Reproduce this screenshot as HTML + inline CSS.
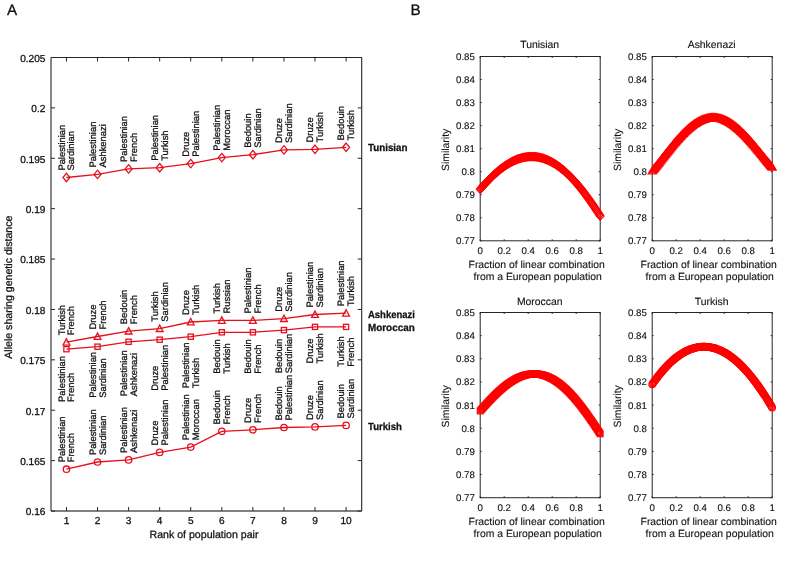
<!DOCTYPE html>
<html><head><meta charset="utf-8"><style>
html,body{margin:0;padding:0;background:#fff;}
svg{display:block;will-change:transform;}
text{font-family:"Liberation Sans", sans-serif;text-rendering:geometricPrecision;fill:#111;stroke:#111;stroke-width:0.28px;}
.t10{font-size:10.1px;}
.t11{font-size:10.6px;}
.t9{font-size:9.4px;}
.t14{font-size:15.2px;}
.tb{font-size:10.3px;font-weight:bold;}
.tb9{font-size:9.7px;stroke-width:0.12px;}
.tb10{font-size:10.4px;stroke-width:0.12px;}
</style></head><body>
<svg width="785" height="563" viewBox="0 0 785 563">
<rect width="785" height="563" fill="#fff"/>
<line x1="51.0" y1="57.5" x2="361.7" y2="57.5" stroke="#262626" stroke-width="1.1"/>
<line x1="361.7" y1="57.5" x2="361.7" y2="511.0" stroke="#262626" stroke-width="1.1"/>
<line x1="51.0" y1="57.5" x2="51.0" y2="511.0" stroke="#555" stroke-width="1.4"/>
<line x1="51.0" y1="511.0" x2="361.7" y2="511.0" stroke="#555" stroke-width="1.4"/>
<line x1="51.0" y1="511.00" x2="55.0" y2="511.00" stroke="#262626" stroke-width="1"/>
<line x1="357.7" y1="511.00" x2="361.7" y2="511.00" stroke="#262626" stroke-width="1"/>
<text x="45.4" y="515.30" text-anchor="end" class="t10">0.16</text>
<line x1="51.0" y1="460.61" x2="55.0" y2="460.61" stroke="#262626" stroke-width="1"/>
<line x1="357.7" y1="460.61" x2="361.7" y2="460.61" stroke="#262626" stroke-width="1"/>
<text x="45.4" y="464.91" text-anchor="end" class="t10">0.165</text>
<line x1="51.0" y1="410.22" x2="55.0" y2="410.22" stroke="#262626" stroke-width="1"/>
<line x1="357.7" y1="410.22" x2="361.7" y2="410.22" stroke="#262626" stroke-width="1"/>
<text x="45.4" y="414.52" text-anchor="end" class="t10">0.17</text>
<line x1="51.0" y1="359.83" x2="55.0" y2="359.83" stroke="#262626" stroke-width="1"/>
<line x1="357.7" y1="359.83" x2="361.7" y2="359.83" stroke="#262626" stroke-width="1"/>
<text x="45.4" y="364.13" text-anchor="end" class="t10">0.175</text>
<line x1="51.0" y1="309.44" x2="55.0" y2="309.44" stroke="#262626" stroke-width="1"/>
<line x1="357.7" y1="309.44" x2="361.7" y2="309.44" stroke="#262626" stroke-width="1"/>
<text x="45.4" y="313.74" text-anchor="end" class="t10">0.18</text>
<line x1="51.0" y1="259.06" x2="55.0" y2="259.06" stroke="#262626" stroke-width="1"/>
<line x1="357.7" y1="259.06" x2="361.7" y2="259.06" stroke="#262626" stroke-width="1"/>
<text x="45.4" y="263.36" text-anchor="end" class="t10">0.185</text>
<line x1="51.0" y1="208.67" x2="55.0" y2="208.67" stroke="#262626" stroke-width="1"/>
<line x1="357.7" y1="208.67" x2="361.7" y2="208.67" stroke="#262626" stroke-width="1"/>
<text x="45.4" y="212.97" text-anchor="end" class="t10">0.19</text>
<line x1="51.0" y1="158.28" x2="55.0" y2="158.28" stroke="#262626" stroke-width="1"/>
<line x1="357.7" y1="158.28" x2="361.7" y2="158.28" stroke="#262626" stroke-width="1"/>
<text x="45.4" y="162.58" text-anchor="end" class="t10">0.195</text>
<line x1="51.0" y1="107.89" x2="55.0" y2="107.89" stroke="#262626" stroke-width="1"/>
<line x1="357.7" y1="107.89" x2="361.7" y2="107.89" stroke="#262626" stroke-width="1"/>
<text x="45.4" y="112.19" text-anchor="end" class="t10">0.2</text>
<line x1="51.0" y1="57.50" x2="55.0" y2="57.50" stroke="#262626" stroke-width="1"/>
<line x1="357.7" y1="57.50" x2="361.7" y2="57.50" stroke="#262626" stroke-width="1"/>
<text x="45.4" y="61.80" text-anchor="end" class="t10">0.205</text>
<line x1="66.45" y1="511.0" x2="66.45" y2="507.0" stroke="#262626" stroke-width="1"/>
<line x1="66.45" y1="57.5" x2="66.45" y2="61.5" stroke="#262626" stroke-width="1"/>
<text x="66.45" y="524.2" text-anchor="middle" class="t10">1</text>
<line x1="97.52" y1="511.0" x2="97.52" y2="507.0" stroke="#262626" stroke-width="1"/>
<line x1="97.52" y1="57.5" x2="97.52" y2="61.5" stroke="#262626" stroke-width="1"/>
<text x="97.52" y="524.2" text-anchor="middle" class="t10">2</text>
<line x1="128.59" y1="511.0" x2="128.59" y2="507.0" stroke="#262626" stroke-width="1"/>
<line x1="128.59" y1="57.5" x2="128.59" y2="61.5" stroke="#262626" stroke-width="1"/>
<text x="128.59" y="524.2" text-anchor="middle" class="t10">3</text>
<line x1="159.66" y1="511.0" x2="159.66" y2="507.0" stroke="#262626" stroke-width="1"/>
<line x1="159.66" y1="57.5" x2="159.66" y2="61.5" stroke="#262626" stroke-width="1"/>
<text x="159.66" y="524.2" text-anchor="middle" class="t10">4</text>
<line x1="190.73" y1="511.0" x2="190.73" y2="507.0" stroke="#262626" stroke-width="1"/>
<line x1="190.73" y1="57.5" x2="190.73" y2="61.5" stroke="#262626" stroke-width="1"/>
<text x="190.73" y="524.2" text-anchor="middle" class="t10">5</text>
<line x1="221.80" y1="511.0" x2="221.80" y2="507.0" stroke="#262626" stroke-width="1"/>
<line x1="221.80" y1="57.5" x2="221.80" y2="61.5" stroke="#262626" stroke-width="1"/>
<text x="221.80" y="524.2" text-anchor="middle" class="t10">6</text>
<line x1="252.87" y1="511.0" x2="252.87" y2="507.0" stroke="#262626" stroke-width="1"/>
<line x1="252.87" y1="57.5" x2="252.87" y2="61.5" stroke="#262626" stroke-width="1"/>
<text x="252.87" y="524.2" text-anchor="middle" class="t10">7</text>
<line x1="283.94" y1="511.0" x2="283.94" y2="507.0" stroke="#262626" stroke-width="1"/>
<line x1="283.94" y1="57.5" x2="283.94" y2="61.5" stroke="#262626" stroke-width="1"/>
<text x="283.94" y="524.2" text-anchor="middle" class="t10">8</text>
<line x1="315.01" y1="511.0" x2="315.01" y2="507.0" stroke="#262626" stroke-width="1"/>
<line x1="315.01" y1="57.5" x2="315.01" y2="61.5" stroke="#262626" stroke-width="1"/>
<text x="315.01" y="524.2" text-anchor="middle" class="t10">9</text>
<line x1="346.08" y1="511.0" x2="346.08" y2="507.0" stroke="#262626" stroke-width="1"/>
<line x1="346.08" y1="57.5" x2="346.08" y2="61.5" stroke="#262626" stroke-width="1"/>
<text x="346.08" y="524.2" text-anchor="middle" class="t10">10</text>
<text x="204" y="537.6" text-anchor="middle" class="t11">Rank of population pair</text>
<text transform="translate(11.8,287.2) rotate(-90)" text-anchor="middle" class="t11">Allele sharing genetic distance</text>
<text x="6.9" y="14.8" class="t14">A</text>
<text x="410.4" y="14.9" class="t14">B</text>
<polyline points="66.45,177.50 97.52,174.40 128.59,168.90 159.66,167.70 190.73,163.60 221.80,157.60 252.87,154.70 283.94,149.90 315.01,149.30 346.08,147.30" fill="none" stroke="#e6101c" stroke-width="1.3"/>
<path d="M66.45,173.30L69.95,177.50L66.45,181.70L62.95,177.50Z" fill="none" stroke="#e6101c" stroke-width="1.3"/>
<path d="M97.52,170.20L101.02,174.40L97.52,178.60L94.02,174.40Z" fill="none" stroke="#e6101c" stroke-width="1.3"/>
<path d="M128.59,164.70L132.09,168.90L128.59,173.10L125.09,168.90Z" fill="none" stroke="#e6101c" stroke-width="1.3"/>
<path d="M159.66,163.50L163.16,167.70L159.66,171.90L156.16,167.70Z" fill="none" stroke="#e6101c" stroke-width="1.3"/>
<path d="M190.73,159.40L194.23,163.60L190.73,167.80L187.23,163.60Z" fill="none" stroke="#e6101c" stroke-width="1.3"/>
<path d="M221.80,153.40L225.30,157.60L221.80,161.80L218.30,157.60Z" fill="none" stroke="#e6101c" stroke-width="1.3"/>
<path d="M252.87,150.50L256.37,154.70L252.87,158.90L249.37,154.70Z" fill="none" stroke="#e6101c" stroke-width="1.3"/>
<path d="M283.94,145.70L287.44,149.90L283.94,154.10L280.44,149.90Z" fill="none" stroke="#e6101c" stroke-width="1.3"/>
<path d="M315.01,145.10L318.51,149.30L315.01,153.50L311.51,149.30Z" fill="none" stroke="#e6101c" stroke-width="1.3"/>
<path d="M346.08,143.10L349.58,147.30L346.08,151.50L342.58,147.30Z" fill="none" stroke="#e6101c" stroke-width="1.3"/>
<text transform="translate(64.55,170.60) rotate(-90)" class="t9">Palestinian</text>
<text transform="translate(74.45,170.60) rotate(-90)" class="t9">Sardinian</text>
<text transform="translate(95.62,167.50) rotate(-90)" class="t9">Palestinian</text>
<text transform="translate(105.52,167.50) rotate(-90)" class="t9">Ashkenazi</text>
<text transform="translate(126.69,162.00) rotate(-90)" class="t9">Palestinian</text>
<text transform="translate(136.59,162.00) rotate(-90)" class="t9">French</text>
<text transform="translate(157.76,160.80) rotate(-90)" class="t9">Palestinian</text>
<text transform="translate(167.66,160.80) rotate(-90)" class="t9">Turkish</text>
<text transform="translate(188.83,156.70) rotate(-90)" class="t9">Druze</text>
<text transform="translate(198.73,156.70) rotate(-90)" class="t9">Palestinian</text>
<text transform="translate(219.90,150.70) rotate(-90)" class="t9">Palestinian</text>
<text transform="translate(229.80,150.70) rotate(-90)" class="t9">Moroccan</text>
<text transform="translate(250.97,147.80) rotate(-90)" class="t9">Bedouin</text>
<text transform="translate(260.87,147.80) rotate(-90)" class="t9">Sardinian</text>
<text transform="translate(282.04,143.00) rotate(-90)" class="t9">Druze</text>
<text transform="translate(291.94,143.00) rotate(-90)" class="t9">Sardinian</text>
<text transform="translate(313.11,142.40) rotate(-90)" class="t9">Druze</text>
<text transform="translate(323.01,142.40) rotate(-90)" class="t9">Turkish</text>
<text transform="translate(344.18,140.40) rotate(-90)" class="t9">Bedouin</text>
<text transform="translate(354.08,140.40) rotate(-90)" class="t9">Turkish</text>
<polyline points="66.45,342.20 97.52,336.50 128.59,331.10 159.66,328.60 190.73,322.00 221.80,320.40 252.87,320.40 283.94,318.60 315.01,314.50 346.08,313.20" fill="none" stroke="#e6101c" stroke-width="1.3"/>
<path d="M66.45,338.68L69.85,345.08L63.05,345.08Z" fill="none" stroke="#e6101c" stroke-width="1.3" stroke-linejoin="miter"/>
<path d="M97.52,332.98L100.92,339.38L94.12,339.38Z" fill="none" stroke="#e6101c" stroke-width="1.3" stroke-linejoin="miter"/>
<path d="M128.59,327.58L131.99,333.98L125.19,333.98Z" fill="none" stroke="#e6101c" stroke-width="1.3" stroke-linejoin="miter"/>
<path d="M159.66,325.08L163.06,331.48L156.26,331.48Z" fill="none" stroke="#e6101c" stroke-width="1.3" stroke-linejoin="miter"/>
<path d="M190.73,318.48L194.13,324.88L187.33,324.88Z" fill="none" stroke="#e6101c" stroke-width="1.3" stroke-linejoin="miter"/>
<path d="M221.80,316.88L225.20,323.28L218.40,323.28Z" fill="none" stroke="#e6101c" stroke-width="1.3" stroke-linejoin="miter"/>
<path d="M252.87,316.88L256.27,323.28L249.47,323.28Z" fill="none" stroke="#e6101c" stroke-width="1.3" stroke-linejoin="miter"/>
<path d="M283.94,315.08L287.34,321.48L280.54,321.48Z" fill="none" stroke="#e6101c" stroke-width="1.3" stroke-linejoin="miter"/>
<path d="M315.01,310.98L318.41,317.38L311.61,317.38Z" fill="none" stroke="#e6101c" stroke-width="1.3" stroke-linejoin="miter"/>
<path d="M346.08,309.68L349.48,316.08L342.68,316.08Z" fill="none" stroke="#e6101c" stroke-width="1.3" stroke-linejoin="miter"/>
<text transform="translate(64.55,335.30) rotate(-90)" class="t9">Turkish</text>
<text transform="translate(74.45,335.30) rotate(-90)" class="t9">French</text>
<text transform="translate(95.62,329.60) rotate(-90)" class="t9">Druze</text>
<text transform="translate(105.52,329.60) rotate(-90)" class="t9">French</text>
<text transform="translate(126.69,324.20) rotate(-90)" class="t9">Bedouin</text>
<text transform="translate(136.59,324.20) rotate(-90)" class="t9">French</text>
<text transform="translate(157.76,321.70) rotate(-90)" class="t9">Turkish</text>
<text transform="translate(167.66,321.70) rotate(-90)" class="t9">Sardinian</text>
<text transform="translate(188.83,315.10) rotate(-90)" class="t9">Druze</text>
<text transform="translate(198.73,315.10) rotate(-90)" class="t9">Turkish</text>
<text transform="translate(219.90,313.50) rotate(-90)" class="t9">Turkish</text>
<text transform="translate(229.80,313.50) rotate(-90)" class="t9">Russian</text>
<text transform="translate(250.97,313.50) rotate(-90)" class="t9">Palestinian</text>
<text transform="translate(260.87,313.50) rotate(-90)" class="t9">French</text>
<text transform="translate(282.04,311.70) rotate(-90)" class="t9">Druze</text>
<text transform="translate(291.94,311.70) rotate(-90)" class="t9">Sardinian</text>
<text transform="translate(313.11,307.60) rotate(-90)" class="t9">Palestinian</text>
<text transform="translate(323.01,307.60) rotate(-90)" class="t9">Sardinian</text>
<text transform="translate(344.18,306.30) rotate(-90)" class="t9">Palestinian</text>
<text transform="translate(354.08,306.30) rotate(-90)" class="t9">Turkish</text>
<polyline points="66.45,349.20 97.52,346.70 128.59,341.80 159.66,339.70 190.73,336.70 221.80,332.30 252.87,332.30 283.94,330.10 315.01,326.90 346.08,326.90" fill="none" stroke="#e6101c" stroke-width="1.3"/>
<rect x="63.85" y="346.60" width="5.20" height="5.20" fill="none" stroke="#e6101c" stroke-width="1.3"/>
<rect x="94.92" y="344.10" width="5.20" height="5.20" fill="none" stroke="#e6101c" stroke-width="1.3"/>
<rect x="125.99" y="339.20" width="5.20" height="5.20" fill="none" stroke="#e6101c" stroke-width="1.3"/>
<rect x="157.06" y="337.10" width="5.20" height="5.20" fill="none" stroke="#e6101c" stroke-width="1.3"/>
<rect x="188.13" y="334.10" width="5.20" height="5.20" fill="none" stroke="#e6101c" stroke-width="1.3"/>
<rect x="219.20" y="329.70" width="5.20" height="5.20" fill="none" stroke="#e6101c" stroke-width="1.3"/>
<rect x="250.27" y="329.70" width="5.20" height="5.20" fill="none" stroke="#e6101c" stroke-width="1.3"/>
<rect x="281.34" y="327.50" width="5.20" height="5.20" fill="none" stroke="#e6101c" stroke-width="1.3"/>
<rect x="312.41" y="324.30" width="5.20" height="5.20" fill="none" stroke="#e6101c" stroke-width="1.3"/>
<rect x="343.48" y="324.30" width="5.20" height="5.20" fill="none" stroke="#e6101c" stroke-width="1.3"/>
<polyline points="66.45,469.20 97.52,462.00 128.59,459.90 159.66,452.40 190.73,447.10 221.80,431.30 252.87,429.80 283.94,427.50 315.01,426.90 346.08,425.40" fill="none" stroke="#e6101c" stroke-width="1.3"/>
<circle cx="66.45" cy="469.20" r="3.2" fill="none" stroke="#e6101c" stroke-width="1.3"/>
<circle cx="97.52" cy="462.00" r="3.2" fill="none" stroke="#e6101c" stroke-width="1.3"/>
<circle cx="128.59" cy="459.90" r="3.2" fill="none" stroke="#e6101c" stroke-width="1.3"/>
<circle cx="159.66" cy="452.40" r="3.2" fill="none" stroke="#e6101c" stroke-width="1.3"/>
<circle cx="190.73" cy="447.10" r="3.2" fill="none" stroke="#e6101c" stroke-width="1.3"/>
<circle cx="221.80" cy="431.30" r="3.2" fill="none" stroke="#e6101c" stroke-width="1.3"/>
<circle cx="252.87" cy="429.80" r="3.2" fill="none" stroke="#e6101c" stroke-width="1.3"/>
<circle cx="283.94" cy="427.50" r="3.2" fill="none" stroke="#e6101c" stroke-width="1.3"/>
<circle cx="315.01" cy="426.90" r="3.2" fill="none" stroke="#e6101c" stroke-width="1.3"/>
<circle cx="346.08" cy="425.40" r="3.2" fill="none" stroke="#e6101c" stroke-width="1.3"/>
<text transform="translate(64.55,462.30) rotate(-90)" class="t9">Palestinian</text>
<text transform="translate(74.45,462.30) rotate(-90)" class="t9">French</text>
<text transform="translate(95.62,455.10) rotate(-90)" class="t9">Palestinian</text>
<text transform="translate(105.52,455.10) rotate(-90)" class="t9">Sardinian</text>
<text transform="translate(126.69,453.00) rotate(-90)" class="t9">Palestinian</text>
<text transform="translate(136.59,453.00) rotate(-90)" class="t9">Ashkenazi</text>
<text transform="translate(157.76,445.50) rotate(-90)" class="t9">Druze</text>
<text transform="translate(167.66,445.50) rotate(-90)" class="t9">Palestinian</text>
<text transform="translate(188.83,440.20) rotate(-90)" class="t9">Palestinian</text>
<text transform="translate(198.73,440.20) rotate(-90)" class="t9">Moroccan</text>
<text transform="translate(219.90,424.40) rotate(-90)" class="t9">Bedouin</text>
<text transform="translate(229.80,424.40) rotate(-90)" class="t9">French</text>
<text transform="translate(250.97,422.90) rotate(-90)" class="t9">Druze</text>
<text transform="translate(260.87,422.90) rotate(-90)" class="t9">French</text>
<text transform="translate(282.04,420.60) rotate(-90)" class="t9">Bedouin</text>
<text transform="translate(291.94,420.60) rotate(-90)" class="t9">Palestinian</text>
<text transform="translate(313.11,420.00) rotate(-90)" class="t9">Druze</text>
<text transform="translate(323.01,420.00) rotate(-90)" class="t9">Sardinian</text>
<text transform="translate(344.18,418.50) rotate(-90)" class="t9">Bedouin</text>
<text transform="translate(354.08,418.50) rotate(-90)" class="t9">Sardinian</text>
<text transform="translate(64.55,401.88) rotate(-90)" class="t9">Palestinian</text>
<text transform="translate(74.45,401.88) rotate(-90)" class="t9">French</text>
<text transform="translate(95.62,397.78) rotate(-90)" class="t9">Palestinian</text>
<text transform="translate(105.52,397.78) rotate(-90)" class="t9">Sardinian</text>
<text transform="translate(126.69,396.18) rotate(-90)" class="t9">Palestinian</text>
<text transform="translate(136.59,396.18) rotate(-90)" class="t9">Ashkenazi</text>
<text transform="translate(157.76,390.68) rotate(-90)" class="t9">Druze</text>
<text transform="translate(167.66,390.68) rotate(-90)" class="t9">Palestinian</text>
<text transform="translate(188.83,388.28) rotate(-90)" class="t9">Palestinian</text>
<text transform="translate(198.73,388.28) rotate(-90)" class="t9">Turkish</text>
<text transform="translate(219.90,373.70) rotate(-90)" class="t9">Bedouin</text>
<text transform="translate(229.80,373.70) rotate(-90)" class="t9">Turkish</text>
<text transform="translate(250.97,373.70) rotate(-90)" class="t9">Bedouin</text>
<text transform="translate(260.87,373.70) rotate(-90)" class="t9">French</text>
<text transform="translate(282.04,373.31) rotate(-90)" class="t9">Bedouin</text>
<text transform="translate(291.94,373.31) rotate(-90)" class="t9">Sardinian</text>
<text transform="translate(313.11,363.57) rotate(-90)" class="t9">Druze</text>
<text transform="translate(323.01,363.57) rotate(-90)" class="t9">Turkish</text>
<text transform="translate(344.18,366.77) rotate(-90)" class="t9">Turkish</text>
<text transform="translate(354.08,366.77) rotate(-90)" class="t9">French</text>
<text transform="translate(368,151.3) scale(0.95,1)" class="tb">Tunisian</text>
<text transform="translate(368,318.0) scale(0.92,1)" class="tb">Ashkenazi</text>
<text transform="translate(368,331.3) scale(0.96,1)" class="tb">Moroccan</text>
<text transform="translate(368,430.0) scale(0.93,1)" class="tb">Turkish</text>
<rect x="480.2" y="56.5" width="120" height="184.30" fill="none" stroke="#262626" stroke-width="1"/>
<line x1="480.2" y1="240.80" x2="481.7" y2="240.80" stroke="#262626" stroke-width="1"/>
<line x1="598.7" y1="240.80" x2="600.2" y2="240.80" stroke="#262626" stroke-width="1"/>
<text x="474.90" y="244.30" text-anchor="end" class="tb9">0.77</text>
<line x1="480.2" y1="217.76" x2="481.7" y2="217.76" stroke="#262626" stroke-width="1"/>
<line x1="598.7" y1="217.76" x2="600.2" y2="217.76" stroke="#262626" stroke-width="1"/>
<text x="474.90" y="221.26" text-anchor="end" class="tb9">0.78</text>
<line x1="480.2" y1="194.72" x2="481.7" y2="194.72" stroke="#262626" stroke-width="1"/>
<line x1="598.7" y1="194.72" x2="600.2" y2="194.72" stroke="#262626" stroke-width="1"/>
<text x="474.90" y="198.22" text-anchor="end" class="tb9">0.79</text>
<line x1="480.2" y1="171.69" x2="481.7" y2="171.69" stroke="#262626" stroke-width="1"/>
<line x1="598.7" y1="171.69" x2="600.2" y2="171.69" stroke="#262626" stroke-width="1"/>
<text x="474.90" y="175.19" text-anchor="end" class="tb9">0.8</text>
<line x1="480.2" y1="148.65" x2="481.7" y2="148.65" stroke="#262626" stroke-width="1"/>
<line x1="598.7" y1="148.65" x2="600.2" y2="148.65" stroke="#262626" stroke-width="1"/>
<text x="474.90" y="152.15" text-anchor="end" class="tb9">0.81</text>
<line x1="480.2" y1="125.61" x2="481.7" y2="125.61" stroke="#262626" stroke-width="1"/>
<line x1="598.7" y1="125.61" x2="600.2" y2="125.61" stroke="#262626" stroke-width="1"/>
<text x="474.90" y="129.11" text-anchor="end" class="tb9">0.82</text>
<line x1="480.2" y1="102.57" x2="481.7" y2="102.57" stroke="#262626" stroke-width="1"/>
<line x1="598.7" y1="102.57" x2="600.2" y2="102.57" stroke="#262626" stroke-width="1"/>
<text x="474.90" y="106.07" text-anchor="end" class="tb9">0.83</text>
<line x1="480.2" y1="79.54" x2="481.7" y2="79.54" stroke="#262626" stroke-width="1"/>
<line x1="598.7" y1="79.54" x2="600.2" y2="79.54" stroke="#262626" stroke-width="1"/>
<text x="474.90" y="83.04" text-anchor="end" class="tb9">0.84</text>
<line x1="480.2" y1="56.50" x2="481.7" y2="56.50" stroke="#262626" stroke-width="1"/>
<line x1="598.7" y1="56.50" x2="600.2" y2="56.50" stroke="#262626" stroke-width="1"/>
<text x="474.90" y="60.00" text-anchor="end" class="tb9">0.85</text>
<line x1="480.20" y1="240.8" x2="480.20" y2="239.3" stroke="#262626" stroke-width="1"/>
<line x1="480.20" y1="56.5" x2="480.20" y2="58.0" stroke="#262626" stroke-width="1"/>
<text x="480.20" y="254.40" text-anchor="middle" class="tb9">0</text>
<line x1="504.20" y1="240.8" x2="504.20" y2="239.3" stroke="#262626" stroke-width="1"/>
<line x1="504.20" y1="56.5" x2="504.20" y2="58.0" stroke="#262626" stroke-width="1"/>
<text x="504.20" y="254.40" text-anchor="middle" class="tb9">0.2</text>
<line x1="528.20" y1="240.8" x2="528.20" y2="239.3" stroke="#262626" stroke-width="1"/>
<line x1="528.20" y1="56.5" x2="528.20" y2="58.0" stroke="#262626" stroke-width="1"/>
<text x="528.20" y="254.40" text-anchor="middle" class="tb9">0.4</text>
<line x1="552.20" y1="240.8" x2="552.20" y2="239.3" stroke="#262626" stroke-width="1"/>
<line x1="552.20" y1="56.5" x2="552.20" y2="58.0" stroke="#262626" stroke-width="1"/>
<text x="552.20" y="254.40" text-anchor="middle" class="tb9">0.6</text>
<line x1="576.20" y1="240.8" x2="576.20" y2="239.3" stroke="#262626" stroke-width="1"/>
<line x1="576.20" y1="56.5" x2="576.20" y2="58.0" stroke="#262626" stroke-width="1"/>
<text x="576.20" y="254.40" text-anchor="middle" class="tb9">0.8</text>
<line x1="600.20" y1="240.8" x2="600.20" y2="239.3" stroke="#262626" stroke-width="1"/>
<line x1="600.20" y1="56.5" x2="600.20" y2="58.0" stroke="#262626" stroke-width="1"/>
<text x="600.20" y="254.40" text-anchor="middle" class="tb9">1</text>
<text x="536.70" y="267.80" text-anchor="middle" class="tb10">Fraction of linear combination</text>
<text x="537.70" y="280.00" text-anchor="middle" class="tb10">from a European population</text>
<text transform="translate(449.00,149.85) rotate(-90)" text-anchor="middle" class="tb10">Similarity</text>
<text x="539.70" y="48.10" text-anchor="middle" class="tb10">Tunisian</text>
<path d="M480.20,185.28L484.10,189.28L480.20,193.28L476.30,189.28Z" fill="none" stroke="#ff0000" stroke-width="1.2"/>
<path d="M481.00,184.35L484.90,188.35L481.00,192.35L477.10,188.35Z" fill="none" stroke="#ff0000" stroke-width="1.2"/>
<path d="M481.80,183.43L485.70,187.43L481.80,191.43L477.90,187.43Z" fill="none" stroke="#ff0000" stroke-width="1.2"/>
<path d="M482.60,182.52L486.50,186.52L482.60,190.52L478.70,186.52Z" fill="none" stroke="#ff0000" stroke-width="1.2"/>
<path d="M483.40,181.63L487.30,185.63L483.40,189.63L479.50,185.63Z" fill="none" stroke="#ff0000" stroke-width="1.2"/>
<path d="M484.20,180.74L488.10,184.74L484.20,188.74L480.30,184.74Z" fill="none" stroke="#ff0000" stroke-width="1.2"/>
<path d="M485.00,179.86L488.90,183.86L485.00,187.86L481.10,183.86Z" fill="none" stroke="#ff0000" stroke-width="1.2"/>
<path d="M485.80,178.99L489.70,182.99L485.80,186.99L481.90,182.99Z" fill="none" stroke="#ff0000" stroke-width="1.2"/>
<path d="M486.60,178.14L490.50,182.14L486.60,186.14L482.70,182.14Z" fill="none" stroke="#ff0000" stroke-width="1.2"/>
<path d="M487.40,177.29L491.30,181.29L487.40,185.29L483.50,181.29Z" fill="none" stroke="#ff0000" stroke-width="1.2"/>
<path d="M488.20,176.46L492.10,180.46L488.20,184.46L484.30,180.46Z" fill="none" stroke="#ff0000" stroke-width="1.2"/>
<path d="M489.00,175.64L492.90,179.64L489.00,183.64L485.10,179.64Z" fill="none" stroke="#ff0000" stroke-width="1.2"/>
<path d="M489.80,174.83L493.70,178.83L489.80,182.83L485.90,178.83Z" fill="none" stroke="#ff0000" stroke-width="1.2"/>
<path d="M490.60,174.03L494.50,178.03L490.60,182.03L486.70,178.03Z" fill="none" stroke="#ff0000" stroke-width="1.2"/>
<path d="M491.40,173.25L495.30,177.25L491.40,181.25L487.50,177.25Z" fill="none" stroke="#ff0000" stroke-width="1.2"/>
<path d="M492.20,172.47L496.10,176.47L492.20,180.47L488.30,176.47Z" fill="none" stroke="#ff0000" stroke-width="1.2"/>
<path d="M493.00,171.71L496.90,175.71L493.00,179.71L489.10,175.71Z" fill="none" stroke="#ff0000" stroke-width="1.2"/>
<path d="M493.80,170.96L497.70,174.96L493.80,178.96L489.90,174.96Z" fill="none" stroke="#ff0000" stroke-width="1.2"/>
<path d="M494.60,170.23L498.50,174.23L494.60,178.23L490.70,174.23Z" fill="none" stroke="#ff0000" stroke-width="1.2"/>
<path d="M495.40,169.51L499.30,173.51L495.40,177.51L491.50,173.51Z" fill="none" stroke="#ff0000" stroke-width="1.2"/>
<path d="M496.20,168.80L500.10,172.80L496.20,176.80L492.30,172.80Z" fill="none" stroke="#ff0000" stroke-width="1.2"/>
<path d="M497.00,168.10L500.90,172.10L497.00,176.10L493.10,172.10Z" fill="none" stroke="#ff0000" stroke-width="1.2"/>
<path d="M497.80,167.42L501.70,171.42L497.80,175.42L493.90,171.42Z" fill="none" stroke="#ff0000" stroke-width="1.2"/>
<path d="M498.60,166.75L502.50,170.75L498.60,174.75L494.70,170.75Z" fill="none" stroke="#ff0000" stroke-width="1.2"/>
<path d="M499.40,166.10L503.30,170.10L499.40,174.10L495.50,170.10Z" fill="none" stroke="#ff0000" stroke-width="1.2"/>
<path d="M500.20,165.46L504.10,169.46L500.20,173.46L496.30,169.46Z" fill="none" stroke="#ff0000" stroke-width="1.2"/>
<path d="M501.00,164.83L504.90,168.83L501.00,172.83L497.10,168.83Z" fill="none" stroke="#ff0000" stroke-width="1.2"/>
<path d="M501.80,164.22L505.70,168.22L501.80,172.22L497.90,168.22Z" fill="none" stroke="#ff0000" stroke-width="1.2"/>
<path d="M502.60,163.62L506.50,167.62L502.60,171.62L498.70,167.62Z" fill="none" stroke="#ff0000" stroke-width="1.2"/>
<path d="M503.40,163.04L507.30,167.04L503.40,171.04L499.50,167.04Z" fill="none" stroke="#ff0000" stroke-width="1.2"/>
<path d="M504.20,162.47L508.10,166.47L504.20,170.47L500.30,166.47Z" fill="none" stroke="#ff0000" stroke-width="1.2"/>
<path d="M505.00,161.92L508.90,165.92L505.00,169.92L501.10,165.92Z" fill="none" stroke="#ff0000" stroke-width="1.2"/>
<path d="M505.80,161.38L509.70,165.38L505.80,169.38L501.90,165.38Z" fill="none" stroke="#ff0000" stroke-width="1.2"/>
<path d="M506.60,160.85L510.50,164.85L506.60,168.85L502.70,164.85Z" fill="none" stroke="#ff0000" stroke-width="1.2"/>
<path d="M507.40,160.34L511.30,164.34L507.40,168.34L503.50,164.34Z" fill="none" stroke="#ff0000" stroke-width="1.2"/>
<path d="M508.20,159.85L512.10,163.85L508.20,167.85L504.30,163.85Z" fill="none" stroke="#ff0000" stroke-width="1.2"/>
<path d="M509.00,159.37L512.90,163.37L509.00,167.37L505.10,163.37Z" fill="none" stroke="#ff0000" stroke-width="1.2"/>
<path d="M509.80,158.91L513.70,162.91L509.80,166.91L505.90,162.91Z" fill="none" stroke="#ff0000" stroke-width="1.2"/>
<path d="M510.60,158.46L514.50,162.46L510.60,166.46L506.70,162.46Z" fill="none" stroke="#ff0000" stroke-width="1.2"/>
<path d="M511.40,158.03L515.30,162.03L511.40,166.03L507.50,162.03Z" fill="none" stroke="#ff0000" stroke-width="1.2"/>
<path d="M512.20,157.62L516.10,161.62L512.20,165.62L508.30,161.62Z" fill="none" stroke="#ff0000" stroke-width="1.2"/>
<path d="M513.00,157.22L516.90,161.22L513.00,165.22L509.10,161.22Z" fill="none" stroke="#ff0000" stroke-width="1.2"/>
<path d="M513.80,156.83L517.70,160.83L513.80,164.83L509.90,160.83Z" fill="none" stroke="#ff0000" stroke-width="1.2"/>
<path d="M514.60,156.46L518.50,160.46L514.60,164.46L510.70,160.46Z" fill="none" stroke="#ff0000" stroke-width="1.2"/>
<path d="M515.40,156.11L519.30,160.11L515.40,164.11L511.50,160.11Z" fill="none" stroke="#ff0000" stroke-width="1.2"/>
<path d="M516.20,155.78L520.10,159.78L516.20,163.78L512.30,159.78Z" fill="none" stroke="#ff0000" stroke-width="1.2"/>
<path d="M517.00,155.46L520.90,159.46L517.00,163.46L513.10,159.46Z" fill="none" stroke="#ff0000" stroke-width="1.2"/>
<path d="M517.80,155.16L521.70,159.16L517.80,163.16L513.90,159.16Z" fill="none" stroke="#ff0000" stroke-width="1.2"/>
<path d="M518.60,154.87L522.50,158.87L518.60,162.87L514.70,158.87Z" fill="none" stroke="#ff0000" stroke-width="1.2"/>
<path d="M519.40,154.60L523.30,158.60L519.40,162.60L515.50,158.60Z" fill="none" stroke="#ff0000" stroke-width="1.2"/>
<path d="M520.20,154.35L524.10,158.35L520.20,162.35L516.30,158.35Z" fill="none" stroke="#ff0000" stroke-width="1.2"/>
<path d="M521.00,154.11L524.90,158.11L521.00,162.11L517.10,158.11Z" fill="none" stroke="#ff0000" stroke-width="1.2"/>
<path d="M521.80,153.89L525.70,157.89L521.80,161.89L517.90,157.89Z" fill="none" stroke="#ff0000" stroke-width="1.2"/>
<path d="M522.60,153.69L526.50,157.69L522.60,161.69L518.70,157.69Z" fill="none" stroke="#ff0000" stroke-width="1.2"/>
<path d="M523.40,153.50L527.30,157.50L523.40,161.50L519.50,157.50Z" fill="none" stroke="#ff0000" stroke-width="1.2"/>
<path d="M524.20,153.34L528.10,157.34L524.20,161.34L520.30,157.34Z" fill="none" stroke="#ff0000" stroke-width="1.2"/>
<path d="M525.00,153.18L528.90,157.18L525.00,161.18L521.10,157.18Z" fill="none" stroke="#ff0000" stroke-width="1.2"/>
<path d="M525.80,153.05L529.70,157.05L525.80,161.05L521.90,157.05Z" fill="none" stroke="#ff0000" stroke-width="1.2"/>
<path d="M526.60,152.93L530.50,156.93L526.60,160.93L522.70,156.93Z" fill="none" stroke="#ff0000" stroke-width="1.2"/>
<path d="M527.40,152.83L531.30,156.83L527.40,160.83L523.50,156.83Z" fill="none" stroke="#ff0000" stroke-width="1.2"/>
<path d="M528.20,152.75L532.10,156.75L528.20,160.75L524.30,156.75Z" fill="none" stroke="#ff0000" stroke-width="1.2"/>
<path d="M529.00,152.68L532.90,156.68L529.00,160.68L525.10,156.68Z" fill="none" stroke="#ff0000" stroke-width="1.2"/>
<path d="M529.80,152.63L533.70,156.63L529.80,160.63L525.90,156.63Z" fill="none" stroke="#ff0000" stroke-width="1.2"/>
<path d="M530.60,152.60L534.50,156.60L530.60,160.60L526.70,156.60Z" fill="none" stroke="#ff0000" stroke-width="1.2"/>
<path d="M531.40,152.59L535.30,156.59L531.40,160.59L527.50,156.59Z" fill="none" stroke="#ff0000" stroke-width="1.2"/>
<path d="M532.20,152.59L536.10,156.59L532.20,160.59L528.30,156.59Z" fill="none" stroke="#ff0000" stroke-width="1.2"/>
<path d="M533.00,152.61L536.90,156.61L533.00,160.61L529.10,156.61Z" fill="none" stroke="#ff0000" stroke-width="1.2"/>
<path d="M533.80,152.65L537.70,156.65L533.80,160.65L529.90,156.65Z" fill="none" stroke="#ff0000" stroke-width="1.2"/>
<path d="M534.60,152.71L538.50,156.71L534.60,160.71L530.70,156.71Z" fill="none" stroke="#ff0000" stroke-width="1.2"/>
<path d="M535.40,152.78L539.30,156.78L535.40,160.78L531.50,156.78Z" fill="none" stroke="#ff0000" stroke-width="1.2"/>
<path d="M536.20,152.87L540.10,156.87L536.20,160.87L532.30,156.87Z" fill="none" stroke="#ff0000" stroke-width="1.2"/>
<path d="M537.00,152.98L540.90,156.98L537.00,160.98L533.10,156.98Z" fill="none" stroke="#ff0000" stroke-width="1.2"/>
<path d="M537.80,153.10L541.70,157.10L537.80,161.10L533.90,157.10Z" fill="none" stroke="#ff0000" stroke-width="1.2"/>
<path d="M538.60,153.25L542.50,157.25L538.60,161.25L534.70,157.25Z" fill="none" stroke="#ff0000" stroke-width="1.2"/>
<path d="M539.40,153.41L543.30,157.41L539.40,161.41L535.50,157.41Z" fill="none" stroke="#ff0000" stroke-width="1.2"/>
<path d="M540.20,153.58L544.10,157.58L540.20,161.58L536.30,157.58Z" fill="none" stroke="#ff0000" stroke-width="1.2"/>
<path d="M541.00,153.78L544.90,157.78L541.00,161.78L537.10,157.78Z" fill="none" stroke="#ff0000" stroke-width="1.2"/>
<path d="M541.80,153.99L545.70,157.99L541.80,161.99L537.90,157.99Z" fill="none" stroke="#ff0000" stroke-width="1.2"/>
<path d="M542.60,154.22L546.50,158.22L542.60,162.22L538.70,158.22Z" fill="none" stroke="#ff0000" stroke-width="1.2"/>
<path d="M543.40,154.47L547.30,158.47L543.40,162.47L539.50,158.47Z" fill="none" stroke="#ff0000" stroke-width="1.2"/>
<path d="M544.20,154.73L548.10,158.73L544.20,162.73L540.30,158.73Z" fill="none" stroke="#ff0000" stroke-width="1.2"/>
<path d="M545.00,155.02L548.90,159.02L545.00,163.02L541.10,159.02Z" fill="none" stroke="#ff0000" stroke-width="1.2"/>
<path d="M545.80,155.32L549.70,159.32L545.80,163.32L541.90,159.32Z" fill="none" stroke="#ff0000" stroke-width="1.2"/>
<path d="M546.60,155.63L550.50,159.63L546.60,163.63L542.70,159.63Z" fill="none" stroke="#ff0000" stroke-width="1.2"/>
<path d="M547.40,155.97L551.30,159.97L547.40,163.97L543.50,159.97Z" fill="none" stroke="#ff0000" stroke-width="1.2"/>
<path d="M548.20,156.32L552.10,160.32L548.20,164.32L544.30,160.32Z" fill="none" stroke="#ff0000" stroke-width="1.2"/>
<path d="M549.00,156.69L552.90,160.69L549.00,164.69L545.10,160.69Z" fill="none" stroke="#ff0000" stroke-width="1.2"/>
<path d="M549.80,157.07L553.70,161.07L549.80,165.07L545.90,161.07Z" fill="none" stroke="#ff0000" stroke-width="1.2"/>
<path d="M550.60,157.48L554.50,161.48L550.60,165.48L546.70,161.48Z" fill="none" stroke="#ff0000" stroke-width="1.2"/>
<path d="M551.40,157.89L555.30,161.89L551.40,165.89L547.50,161.89Z" fill="none" stroke="#ff0000" stroke-width="1.2"/>
<path d="M552.20,158.33L556.10,162.33L552.20,166.33L548.30,162.33Z" fill="none" stroke="#ff0000" stroke-width="1.2"/>
<path d="M553.00,158.79L556.90,162.79L553.00,166.79L549.10,162.79Z" fill="none" stroke="#ff0000" stroke-width="1.2"/>
<path d="M553.80,159.26L557.70,163.26L553.80,167.26L549.90,163.26Z" fill="none" stroke="#ff0000" stroke-width="1.2"/>
<path d="M554.60,159.74L558.50,163.74L554.60,167.74L550.70,163.74Z" fill="none" stroke="#ff0000" stroke-width="1.2"/>
<path d="M555.40,160.25L559.30,164.25L555.40,168.25L551.50,164.25Z" fill="none" stroke="#ff0000" stroke-width="1.2"/>
<path d="M556.20,160.77L560.10,164.77L556.20,168.77L552.30,164.77Z" fill="none" stroke="#ff0000" stroke-width="1.2"/>
<path d="M557.00,161.31L560.90,165.31L557.00,169.31L553.10,165.31Z" fill="none" stroke="#ff0000" stroke-width="1.2"/>
<path d="M557.80,161.86L561.70,165.86L557.80,169.86L553.90,165.86Z" fill="none" stroke="#ff0000" stroke-width="1.2"/>
<path d="M558.60,162.43L562.50,166.43L558.60,170.43L554.70,166.43Z" fill="none" stroke="#ff0000" stroke-width="1.2"/>
<path d="M559.40,163.02L563.30,167.02L559.40,171.02L555.50,167.02Z" fill="none" stroke="#ff0000" stroke-width="1.2"/>
<path d="M560.20,163.63L564.10,167.63L560.20,171.63L556.30,167.63Z" fill="none" stroke="#ff0000" stroke-width="1.2"/>
<path d="M561.00,164.25L564.90,168.25L561.00,172.25L557.10,168.25Z" fill="none" stroke="#ff0000" stroke-width="1.2"/>
<path d="M561.80,164.88L565.70,168.88L561.80,172.88L557.90,168.88Z" fill="none" stroke="#ff0000" stroke-width="1.2"/>
<path d="M562.60,165.54L566.50,169.54L562.60,173.54L558.70,169.54Z" fill="none" stroke="#ff0000" stroke-width="1.2"/>
<path d="M563.40,166.20L567.30,170.20L563.40,174.20L559.50,170.20Z" fill="none" stroke="#ff0000" stroke-width="1.2"/>
<path d="M564.20,166.89L568.10,170.89L564.20,174.89L560.30,170.89Z" fill="none" stroke="#ff0000" stroke-width="1.2"/>
<path d="M565.00,167.59L568.90,171.59L565.00,175.59L561.10,171.59Z" fill="none" stroke="#ff0000" stroke-width="1.2"/>
<path d="M565.80,168.31L569.70,172.31L565.80,176.31L561.90,172.31Z" fill="none" stroke="#ff0000" stroke-width="1.2"/>
<path d="M566.60,169.04L570.50,173.04L566.60,177.04L562.70,173.04Z" fill="none" stroke="#ff0000" stroke-width="1.2"/>
<path d="M567.40,169.78L571.30,173.78L567.40,177.78L563.50,173.78Z" fill="none" stroke="#ff0000" stroke-width="1.2"/>
<path d="M568.20,170.55L572.10,174.55L568.20,178.55L564.30,174.55Z" fill="none" stroke="#ff0000" stroke-width="1.2"/>
<path d="M569.00,171.33L572.90,175.33L569.00,179.33L565.10,175.33Z" fill="none" stroke="#ff0000" stroke-width="1.2"/>
<path d="M569.80,172.12L573.70,176.12L569.80,180.12L565.90,176.12Z" fill="none" stroke="#ff0000" stroke-width="1.2"/>
<path d="M570.60,172.93L574.50,176.93L570.60,180.93L566.70,176.93Z" fill="none" stroke="#ff0000" stroke-width="1.2"/>
<path d="M571.40,173.75L575.30,177.75L571.40,181.75L567.50,177.75Z" fill="none" stroke="#ff0000" stroke-width="1.2"/>
<path d="M572.20,174.59L576.10,178.59L572.20,182.59L568.30,178.59Z" fill="none" stroke="#ff0000" stroke-width="1.2"/>
<path d="M573.00,175.44L576.90,179.44L573.00,183.44L569.10,179.44Z" fill="none" stroke="#ff0000" stroke-width="1.2"/>
<path d="M573.80,176.31L577.70,180.31L573.80,184.31L569.90,180.31Z" fill="none" stroke="#ff0000" stroke-width="1.2"/>
<path d="M574.60,177.19L578.50,181.19L574.60,185.19L570.70,181.19Z" fill="none" stroke="#ff0000" stroke-width="1.2"/>
<path d="M575.40,178.09L579.30,182.09L575.40,186.09L571.50,182.09Z" fill="none" stroke="#ff0000" stroke-width="1.2"/>
<path d="M576.20,179.00L580.10,183.00L576.20,187.00L572.30,183.00Z" fill="none" stroke="#ff0000" stroke-width="1.2"/>
<path d="M577.00,179.92L580.90,183.92L577.00,187.92L573.10,183.92Z" fill="none" stroke="#ff0000" stroke-width="1.2"/>
<path d="M577.80,180.86L581.70,184.86L577.80,188.86L573.90,184.86Z" fill="none" stroke="#ff0000" stroke-width="1.2"/>
<path d="M578.60,181.81L582.50,185.81L578.60,189.81L574.70,185.81Z" fill="none" stroke="#ff0000" stroke-width="1.2"/>
<path d="M579.40,182.78L583.30,186.78L579.40,190.78L575.50,186.78Z" fill="none" stroke="#ff0000" stroke-width="1.2"/>
<path d="M580.20,183.76L584.10,187.76L580.20,191.76L576.30,187.76Z" fill="none" stroke="#ff0000" stroke-width="1.2"/>
<path d="M581.00,184.75L584.90,188.75L581.00,192.75L577.10,188.75Z" fill="none" stroke="#ff0000" stroke-width="1.2"/>
<path d="M581.80,185.76L585.70,189.76L581.80,193.76L577.90,189.76Z" fill="none" stroke="#ff0000" stroke-width="1.2"/>
<path d="M582.60,186.77L586.50,190.77L582.60,194.77L578.70,190.77Z" fill="none" stroke="#ff0000" stroke-width="1.2"/>
<path d="M583.40,187.80L587.30,191.80L583.40,195.80L579.50,191.80Z" fill="none" stroke="#ff0000" stroke-width="1.2"/>
<path d="M584.20,188.85L588.10,192.85L584.20,196.85L580.30,192.85Z" fill="none" stroke="#ff0000" stroke-width="1.2"/>
<path d="M585.00,189.90L588.90,193.90L585.00,197.90L581.10,193.90Z" fill="none" stroke="#ff0000" stroke-width="1.2"/>
<path d="M585.80,190.97L589.70,194.97L585.80,198.97L581.90,194.97Z" fill="none" stroke="#ff0000" stroke-width="1.2"/>
<path d="M586.60,192.05L590.50,196.05L586.60,200.05L582.70,196.05Z" fill="none" stroke="#ff0000" stroke-width="1.2"/>
<path d="M587.40,193.15L591.30,197.15L587.40,201.15L583.50,197.15Z" fill="none" stroke="#ff0000" stroke-width="1.2"/>
<path d="M588.20,194.25L592.10,198.25L588.20,202.25L584.30,198.25Z" fill="none" stroke="#ff0000" stroke-width="1.2"/>
<path d="M589.00,195.37L592.90,199.37L589.00,203.37L585.10,199.37Z" fill="none" stroke="#ff0000" stroke-width="1.2"/>
<path d="M589.80,196.49L593.70,200.49L589.80,204.49L585.90,200.49Z" fill="none" stroke="#ff0000" stroke-width="1.2"/>
<path d="M590.60,197.63L594.50,201.63L590.60,205.63L586.70,201.63Z" fill="none" stroke="#ff0000" stroke-width="1.2"/>
<path d="M591.40,198.78L595.30,202.78L591.40,206.78L587.50,202.78Z" fill="none" stroke="#ff0000" stroke-width="1.2"/>
<path d="M592.20,199.94L596.10,203.94L592.20,207.94L588.30,203.94Z" fill="none" stroke="#ff0000" stroke-width="1.2"/>
<path d="M593.00,201.11L596.90,205.11L593.00,209.11L589.10,205.11Z" fill="none" stroke="#ff0000" stroke-width="1.2"/>
<path d="M593.80,202.29L597.70,206.29L593.80,210.29L589.90,206.29Z" fill="none" stroke="#ff0000" stroke-width="1.2"/>
<path d="M594.60,203.48L598.50,207.48L594.60,211.48L590.70,207.48Z" fill="none" stroke="#ff0000" stroke-width="1.2"/>
<path d="M595.40,204.68L599.30,208.68L595.40,212.68L591.50,208.68Z" fill="none" stroke="#ff0000" stroke-width="1.2"/>
<path d="M596.20,205.89L600.10,209.89L596.20,213.89L592.30,209.89Z" fill="none" stroke="#ff0000" stroke-width="1.2"/>
<path d="M597.00,207.11L600.90,211.11L597.00,215.11L593.10,211.11Z" fill="none" stroke="#ff0000" stroke-width="1.2"/>
<path d="M597.80,208.34L601.70,212.34L597.80,216.34L593.90,212.34Z" fill="none" stroke="#ff0000" stroke-width="1.2"/>
<path d="M598.60,209.58L602.50,213.58L598.60,217.58L594.70,213.58Z" fill="none" stroke="#ff0000" stroke-width="1.2"/>
<path d="M599.40,210.83L603.30,214.83L599.40,218.83L595.50,214.83Z" fill="none" stroke="#ff0000" stroke-width="1.2"/>
<path d="M600.20,212.09L604.10,216.09L600.20,220.09L596.30,216.09Z" fill="none" stroke="#ff0000" stroke-width="1.2"/>
<rect x="652.2" y="56.5" width="120" height="184.30" fill="none" stroke="#262626" stroke-width="1"/>
<line x1="652.2" y1="240.80" x2="653.7" y2="240.80" stroke="#262626" stroke-width="1"/>
<line x1="770.7" y1="240.80" x2="772.2" y2="240.80" stroke="#262626" stroke-width="1"/>
<text x="646.90" y="244.30" text-anchor="end" class="tb9">0.77</text>
<line x1="652.2" y1="217.76" x2="653.7" y2="217.76" stroke="#262626" stroke-width="1"/>
<line x1="770.7" y1="217.76" x2="772.2" y2="217.76" stroke="#262626" stroke-width="1"/>
<text x="646.90" y="221.26" text-anchor="end" class="tb9">0.78</text>
<line x1="652.2" y1="194.72" x2="653.7" y2="194.72" stroke="#262626" stroke-width="1"/>
<line x1="770.7" y1="194.72" x2="772.2" y2="194.72" stroke="#262626" stroke-width="1"/>
<text x="646.90" y="198.22" text-anchor="end" class="tb9">0.79</text>
<line x1="652.2" y1="171.69" x2="653.7" y2="171.69" stroke="#262626" stroke-width="1"/>
<line x1="770.7" y1="171.69" x2="772.2" y2="171.69" stroke="#262626" stroke-width="1"/>
<text x="646.90" y="175.19" text-anchor="end" class="tb9">0.8</text>
<line x1="652.2" y1="148.65" x2="653.7" y2="148.65" stroke="#262626" stroke-width="1"/>
<line x1="770.7" y1="148.65" x2="772.2" y2="148.65" stroke="#262626" stroke-width="1"/>
<text x="646.90" y="152.15" text-anchor="end" class="tb9">0.81</text>
<line x1="652.2" y1="125.61" x2="653.7" y2="125.61" stroke="#262626" stroke-width="1"/>
<line x1="770.7" y1="125.61" x2="772.2" y2="125.61" stroke="#262626" stroke-width="1"/>
<text x="646.90" y="129.11" text-anchor="end" class="tb9">0.82</text>
<line x1="652.2" y1="102.57" x2="653.7" y2="102.57" stroke="#262626" stroke-width="1"/>
<line x1="770.7" y1="102.57" x2="772.2" y2="102.57" stroke="#262626" stroke-width="1"/>
<text x="646.90" y="106.07" text-anchor="end" class="tb9">0.83</text>
<line x1="652.2" y1="79.54" x2="653.7" y2="79.54" stroke="#262626" stroke-width="1"/>
<line x1="770.7" y1="79.54" x2="772.2" y2="79.54" stroke="#262626" stroke-width="1"/>
<text x="646.90" y="83.04" text-anchor="end" class="tb9">0.84</text>
<line x1="652.2" y1="56.50" x2="653.7" y2="56.50" stroke="#262626" stroke-width="1"/>
<line x1="770.7" y1="56.50" x2="772.2" y2="56.50" stroke="#262626" stroke-width="1"/>
<text x="646.90" y="60.00" text-anchor="end" class="tb9">0.85</text>
<line x1="652.20" y1="240.8" x2="652.20" y2="239.3" stroke="#262626" stroke-width="1"/>
<line x1="652.20" y1="56.5" x2="652.20" y2="58.0" stroke="#262626" stroke-width="1"/>
<text x="652.20" y="254.40" text-anchor="middle" class="tb9">0</text>
<line x1="676.20" y1="240.8" x2="676.20" y2="239.3" stroke="#262626" stroke-width="1"/>
<line x1="676.20" y1="56.5" x2="676.20" y2="58.0" stroke="#262626" stroke-width="1"/>
<text x="676.20" y="254.40" text-anchor="middle" class="tb9">0.2</text>
<line x1="700.20" y1="240.8" x2="700.20" y2="239.3" stroke="#262626" stroke-width="1"/>
<line x1="700.20" y1="56.5" x2="700.20" y2="58.0" stroke="#262626" stroke-width="1"/>
<text x="700.20" y="254.40" text-anchor="middle" class="tb9">0.4</text>
<line x1="724.20" y1="240.8" x2="724.20" y2="239.3" stroke="#262626" stroke-width="1"/>
<line x1="724.20" y1="56.5" x2="724.20" y2="58.0" stroke="#262626" stroke-width="1"/>
<text x="724.20" y="254.40" text-anchor="middle" class="tb9">0.6</text>
<line x1="748.20" y1="240.8" x2="748.20" y2="239.3" stroke="#262626" stroke-width="1"/>
<line x1="748.20" y1="56.5" x2="748.20" y2="58.0" stroke="#262626" stroke-width="1"/>
<text x="748.20" y="254.40" text-anchor="middle" class="tb9">0.8</text>
<line x1="772.20" y1="240.8" x2="772.20" y2="239.3" stroke="#262626" stroke-width="1"/>
<line x1="772.20" y1="56.5" x2="772.20" y2="58.0" stroke="#262626" stroke-width="1"/>
<text x="772.20" y="254.40" text-anchor="middle" class="tb9">1</text>
<text x="708.70" y="267.80" text-anchor="middle" class="tb10">Fraction of linear combination</text>
<text x="709.70" y="280.00" text-anchor="middle" class="tb10">from a European population</text>
<text transform="translate(621.00,149.85) rotate(-90)" text-anchor="middle" class="tb10">Similarity</text>
<text x="711.70" y="48.10" text-anchor="middle" class="tb10">Ashkenazi</text>
<path d="M652.20,167.08L656.20,173.98L648.20,173.98Z" fill="none" stroke="#ff0000" stroke-width="1.2" stroke-linejoin="miter"/>
<path d="M653.00,166.11L657.00,173.01L649.00,173.01Z" fill="none" stroke="#ff0000" stroke-width="1.2" stroke-linejoin="miter"/>
<path d="M653.80,165.14L657.80,172.04L649.80,172.04Z" fill="none" stroke="#ff0000" stroke-width="1.2" stroke-linejoin="miter"/>
<path d="M654.60,164.16L658.60,171.06L650.60,171.06Z" fill="none" stroke="#ff0000" stroke-width="1.2" stroke-linejoin="miter"/>
<path d="M655.40,163.17L659.40,170.07L651.40,170.07Z" fill="none" stroke="#ff0000" stroke-width="1.2" stroke-linejoin="miter"/>
<path d="M656.20,162.17L660.20,169.07L652.20,169.07Z" fill="none" stroke="#ff0000" stroke-width="1.2" stroke-linejoin="miter"/>
<path d="M657.00,161.17L661.00,168.07L653.00,168.07Z" fill="none" stroke="#ff0000" stroke-width="1.2" stroke-linejoin="miter"/>
<path d="M657.80,160.16L661.80,167.06L653.80,167.06Z" fill="none" stroke="#ff0000" stroke-width="1.2" stroke-linejoin="miter"/>
<path d="M658.60,159.14L662.60,166.04L654.60,166.04Z" fill="none" stroke="#ff0000" stroke-width="1.2" stroke-linejoin="miter"/>
<path d="M659.40,158.13L663.40,165.03L655.40,165.03Z" fill="none" stroke="#ff0000" stroke-width="1.2" stroke-linejoin="miter"/>
<path d="M660.20,157.10L664.20,164.00L656.20,164.00Z" fill="none" stroke="#ff0000" stroke-width="1.2" stroke-linejoin="miter"/>
<path d="M661.00,156.08L665.00,162.98L657.00,162.98Z" fill="none" stroke="#ff0000" stroke-width="1.2" stroke-linejoin="miter"/>
<path d="M661.80,155.06L665.80,161.96L657.80,161.96Z" fill="none" stroke="#ff0000" stroke-width="1.2" stroke-linejoin="miter"/>
<path d="M662.60,154.03L666.60,160.93L658.60,160.93Z" fill="none" stroke="#ff0000" stroke-width="1.2" stroke-linejoin="miter"/>
<path d="M663.40,153.01L667.40,159.91L659.40,159.91Z" fill="none" stroke="#ff0000" stroke-width="1.2" stroke-linejoin="miter"/>
<path d="M664.20,151.98L668.20,158.88L660.20,158.88Z" fill="none" stroke="#ff0000" stroke-width="1.2" stroke-linejoin="miter"/>
<path d="M665.00,150.96L669.00,157.86L661.00,157.86Z" fill="none" stroke="#ff0000" stroke-width="1.2" stroke-linejoin="miter"/>
<path d="M665.80,149.94L669.80,156.84L661.80,156.84Z" fill="none" stroke="#ff0000" stroke-width="1.2" stroke-linejoin="miter"/>
<path d="M666.60,148.92L670.60,155.82L662.60,155.82Z" fill="none" stroke="#ff0000" stroke-width="1.2" stroke-linejoin="miter"/>
<path d="M667.40,147.91L671.40,154.81L663.40,154.81Z" fill="none" stroke="#ff0000" stroke-width="1.2" stroke-linejoin="miter"/>
<path d="M668.20,146.90L672.20,153.80L664.20,153.80Z" fill="none" stroke="#ff0000" stroke-width="1.2" stroke-linejoin="miter"/>
<path d="M669.00,145.89L673.00,152.79L665.00,152.79Z" fill="none" stroke="#ff0000" stroke-width="1.2" stroke-linejoin="miter"/>
<path d="M669.80,144.90L673.80,151.80L665.80,151.80Z" fill="none" stroke="#ff0000" stroke-width="1.2" stroke-linejoin="miter"/>
<path d="M670.60,143.91L674.60,150.81L666.60,150.81Z" fill="none" stroke="#ff0000" stroke-width="1.2" stroke-linejoin="miter"/>
<path d="M671.40,142.92L675.40,149.82L667.40,149.82Z" fill="none" stroke="#ff0000" stroke-width="1.2" stroke-linejoin="miter"/>
<path d="M672.20,141.95L676.20,148.85L668.20,148.85Z" fill="none" stroke="#ff0000" stroke-width="1.2" stroke-linejoin="miter"/>
<path d="M673.00,140.98L677.00,147.88L669.00,147.88Z" fill="none" stroke="#ff0000" stroke-width="1.2" stroke-linejoin="miter"/>
<path d="M673.80,140.02L677.80,146.92L669.80,146.92Z" fill="none" stroke="#ff0000" stroke-width="1.2" stroke-linejoin="miter"/>
<path d="M674.60,139.07L678.60,145.97L670.60,145.97Z" fill="none" stroke="#ff0000" stroke-width="1.2" stroke-linejoin="miter"/>
<path d="M675.40,138.13L679.40,145.03L671.40,145.03Z" fill="none" stroke="#ff0000" stroke-width="1.2" stroke-linejoin="miter"/>
<path d="M676.20,137.20L680.20,144.10L672.20,144.10Z" fill="none" stroke="#ff0000" stroke-width="1.2" stroke-linejoin="miter"/>
<path d="M677.00,136.29L681.00,143.19L673.00,143.19Z" fill="none" stroke="#ff0000" stroke-width="1.2" stroke-linejoin="miter"/>
<path d="M677.80,135.38L681.80,142.28L673.80,142.28Z" fill="none" stroke="#ff0000" stroke-width="1.2" stroke-linejoin="miter"/>
<path d="M678.60,134.49L682.60,141.39L674.60,141.39Z" fill="none" stroke="#ff0000" stroke-width="1.2" stroke-linejoin="miter"/>
<path d="M679.40,133.61L683.40,140.51L675.40,140.51Z" fill="none" stroke="#ff0000" stroke-width="1.2" stroke-linejoin="miter"/>
<path d="M680.20,132.75L684.20,139.65L676.20,139.65Z" fill="none" stroke="#ff0000" stroke-width="1.2" stroke-linejoin="miter"/>
<path d="M681.00,131.90L685.00,138.80L677.00,138.80Z" fill="none" stroke="#ff0000" stroke-width="1.2" stroke-linejoin="miter"/>
<path d="M681.80,131.06L685.80,137.96L677.80,137.96Z" fill="none" stroke="#ff0000" stroke-width="1.2" stroke-linejoin="miter"/>
<path d="M682.60,130.24L686.60,137.14L678.60,137.14Z" fill="none" stroke="#ff0000" stroke-width="1.2" stroke-linejoin="miter"/>
<path d="M683.40,129.43L687.40,136.33L679.40,136.33Z" fill="none" stroke="#ff0000" stroke-width="1.2" stroke-linejoin="miter"/>
<path d="M684.20,128.64L688.20,135.54L680.20,135.54Z" fill="none" stroke="#ff0000" stroke-width="1.2" stroke-linejoin="miter"/>
<path d="M685.00,127.87L689.00,134.77L681.00,134.77Z" fill="none" stroke="#ff0000" stroke-width="1.2" stroke-linejoin="miter"/>
<path d="M685.80,127.11L689.80,134.01L681.80,134.01Z" fill="none" stroke="#ff0000" stroke-width="1.2" stroke-linejoin="miter"/>
<path d="M686.60,126.37L690.60,133.27L682.60,133.27Z" fill="none" stroke="#ff0000" stroke-width="1.2" stroke-linejoin="miter"/>
<path d="M687.40,125.65L691.40,132.55L683.40,132.55Z" fill="none" stroke="#ff0000" stroke-width="1.2" stroke-linejoin="miter"/>
<path d="M688.20,124.95L692.20,131.85L684.20,131.85Z" fill="none" stroke="#ff0000" stroke-width="1.2" stroke-linejoin="miter"/>
<path d="M689.00,124.26L693.00,131.16L685.00,131.16Z" fill="none" stroke="#ff0000" stroke-width="1.2" stroke-linejoin="miter"/>
<path d="M689.80,123.59L693.80,130.49L685.80,130.49Z" fill="none" stroke="#ff0000" stroke-width="1.2" stroke-linejoin="miter"/>
<path d="M690.60,122.95L694.60,129.85L686.60,129.85Z" fill="none" stroke="#ff0000" stroke-width="1.2" stroke-linejoin="miter"/>
<path d="M691.40,122.32L695.40,129.22L687.40,129.22Z" fill="none" stroke="#ff0000" stroke-width="1.2" stroke-linejoin="miter"/>
<path d="M692.20,121.71L696.20,128.61L688.20,128.61Z" fill="none" stroke="#ff0000" stroke-width="1.2" stroke-linejoin="miter"/>
<path d="M693.00,121.12L697.00,128.02L689.00,128.02Z" fill="none" stroke="#ff0000" stroke-width="1.2" stroke-linejoin="miter"/>
<path d="M693.80,120.56L697.80,127.46L689.80,127.46Z" fill="none" stroke="#ff0000" stroke-width="1.2" stroke-linejoin="miter"/>
<path d="M694.60,120.01L698.60,126.91L690.60,126.91Z" fill="none" stroke="#ff0000" stroke-width="1.2" stroke-linejoin="miter"/>
<path d="M695.40,119.48L699.40,126.38L691.40,126.38Z" fill="none" stroke="#ff0000" stroke-width="1.2" stroke-linejoin="miter"/>
<path d="M696.20,118.98L700.20,125.88L692.20,125.88Z" fill="none" stroke="#ff0000" stroke-width="1.2" stroke-linejoin="miter"/>
<path d="M697.00,118.50L701.00,125.40L693.00,125.40Z" fill="none" stroke="#ff0000" stroke-width="1.2" stroke-linejoin="miter"/>
<path d="M697.80,118.03L701.80,124.93L693.80,124.93Z" fill="none" stroke="#ff0000" stroke-width="1.2" stroke-linejoin="miter"/>
<path d="M698.60,117.60L702.60,124.50L694.60,124.50Z" fill="none" stroke="#ff0000" stroke-width="1.2" stroke-linejoin="miter"/>
<path d="M699.40,117.18L703.40,124.08L695.40,124.08Z" fill="none" stroke="#ff0000" stroke-width="1.2" stroke-linejoin="miter"/>
<path d="M700.20,116.78L704.20,123.68L696.20,123.68Z" fill="none" stroke="#ff0000" stroke-width="1.2" stroke-linejoin="miter"/>
<path d="M701.00,116.41L705.00,123.31L697.00,123.31Z" fill="none" stroke="#ff0000" stroke-width="1.2" stroke-linejoin="miter"/>
<path d="M701.80,116.06L705.80,122.96L697.80,122.96Z" fill="none" stroke="#ff0000" stroke-width="1.2" stroke-linejoin="miter"/>
<path d="M702.60,115.74L706.60,122.64L698.60,122.64Z" fill="none" stroke="#ff0000" stroke-width="1.2" stroke-linejoin="miter"/>
<path d="M703.40,115.44L707.40,122.34L699.40,122.34Z" fill="none" stroke="#ff0000" stroke-width="1.2" stroke-linejoin="miter"/>
<path d="M704.20,115.16L708.20,122.06L700.20,122.06Z" fill="none" stroke="#ff0000" stroke-width="1.2" stroke-linejoin="miter"/>
<path d="M705.00,114.90L709.00,121.80L701.00,121.80Z" fill="none" stroke="#ff0000" stroke-width="1.2" stroke-linejoin="miter"/>
<path d="M705.80,114.67L709.80,121.57L701.80,121.57Z" fill="none" stroke="#ff0000" stroke-width="1.2" stroke-linejoin="miter"/>
<path d="M706.60,114.46L710.60,121.36L702.60,121.36Z" fill="none" stroke="#ff0000" stroke-width="1.2" stroke-linejoin="miter"/>
<path d="M707.40,114.28L711.40,121.18L703.40,121.18Z" fill="none" stroke="#ff0000" stroke-width="1.2" stroke-linejoin="miter"/>
<path d="M708.20,114.11L712.20,121.01L704.20,121.01Z" fill="none" stroke="#ff0000" stroke-width="1.2" stroke-linejoin="miter"/>
<path d="M709.00,113.98L713.00,120.88L705.00,120.88Z" fill="none" stroke="#ff0000" stroke-width="1.2" stroke-linejoin="miter"/>
<path d="M709.80,113.86L713.80,120.76L705.80,120.76Z" fill="none" stroke="#ff0000" stroke-width="1.2" stroke-linejoin="miter"/>
<path d="M710.60,113.78L714.60,120.68L706.60,120.68Z" fill="none" stroke="#ff0000" stroke-width="1.2" stroke-linejoin="miter"/>
<path d="M711.40,113.71L715.40,120.61L707.40,120.61Z" fill="none" stroke="#ff0000" stroke-width="1.2" stroke-linejoin="miter"/>
<path d="M712.20,113.67L716.20,120.57L708.20,120.57Z" fill="none" stroke="#ff0000" stroke-width="1.2" stroke-linejoin="miter"/>
<path d="M713.00,113.65L717.00,120.55L709.00,120.55Z" fill="none" stroke="#ff0000" stroke-width="1.2" stroke-linejoin="miter"/>
<path d="M713.80,113.66L717.80,120.56L709.80,120.56Z" fill="none" stroke="#ff0000" stroke-width="1.2" stroke-linejoin="miter"/>
<path d="M714.60,113.69L718.60,120.59L710.60,120.59Z" fill="none" stroke="#ff0000" stroke-width="1.2" stroke-linejoin="miter"/>
<path d="M715.40,113.75L719.40,120.65L711.40,120.65Z" fill="none" stroke="#ff0000" stroke-width="1.2" stroke-linejoin="miter"/>
<path d="M716.20,113.83L720.20,120.73L712.20,120.73Z" fill="none" stroke="#ff0000" stroke-width="1.2" stroke-linejoin="miter"/>
<path d="M717.00,113.93L721.00,120.83L713.00,120.83Z" fill="none" stroke="#ff0000" stroke-width="1.2" stroke-linejoin="miter"/>
<path d="M717.80,114.06L721.80,120.96L713.80,120.96Z" fill="none" stroke="#ff0000" stroke-width="1.2" stroke-linejoin="miter"/>
<path d="M718.60,114.21L722.60,121.11L714.60,121.11Z" fill="none" stroke="#ff0000" stroke-width="1.2" stroke-linejoin="miter"/>
<path d="M719.40,114.39L723.40,121.29L715.40,121.29Z" fill="none" stroke="#ff0000" stroke-width="1.2" stroke-linejoin="miter"/>
<path d="M720.20,114.59L724.20,121.49L716.20,121.49Z" fill="none" stroke="#ff0000" stroke-width="1.2" stroke-linejoin="miter"/>
<path d="M721.00,114.81L725.00,121.71L717.00,121.71Z" fill="none" stroke="#ff0000" stroke-width="1.2" stroke-linejoin="miter"/>
<path d="M721.80,115.05L725.80,121.95L717.80,121.95Z" fill="none" stroke="#ff0000" stroke-width="1.2" stroke-linejoin="miter"/>
<path d="M722.60,115.32L726.60,122.22L718.60,122.22Z" fill="none" stroke="#ff0000" stroke-width="1.2" stroke-linejoin="miter"/>
<path d="M723.40,115.61L727.40,122.51L719.40,122.51Z" fill="none" stroke="#ff0000" stroke-width="1.2" stroke-linejoin="miter"/>
<path d="M724.20,115.93L728.20,122.83L720.20,122.83Z" fill="none" stroke="#ff0000" stroke-width="1.2" stroke-linejoin="miter"/>
<path d="M725.00,116.27L729.00,123.17L721.00,123.17Z" fill="none" stroke="#ff0000" stroke-width="1.2" stroke-linejoin="miter"/>
<path d="M725.80,116.63L729.80,123.53L721.80,123.53Z" fill="none" stroke="#ff0000" stroke-width="1.2" stroke-linejoin="miter"/>
<path d="M726.60,117.01L730.60,123.91L722.60,123.91Z" fill="none" stroke="#ff0000" stroke-width="1.2" stroke-linejoin="miter"/>
<path d="M727.40,117.42L731.40,124.32L723.40,124.32Z" fill="none" stroke="#ff0000" stroke-width="1.2" stroke-linejoin="miter"/>
<path d="M728.20,117.84L732.20,124.74L724.20,124.74Z" fill="none" stroke="#ff0000" stroke-width="1.2" stroke-linejoin="miter"/>
<path d="M729.00,118.29L733.00,125.19L725.00,125.19Z" fill="none" stroke="#ff0000" stroke-width="1.2" stroke-linejoin="miter"/>
<path d="M729.80,118.76L733.80,125.66L725.80,125.66Z" fill="none" stroke="#ff0000" stroke-width="1.2" stroke-linejoin="miter"/>
<path d="M730.60,119.25L734.60,126.15L726.60,126.15Z" fill="none" stroke="#ff0000" stroke-width="1.2" stroke-linejoin="miter"/>
<path d="M731.40,119.77L735.40,126.67L727.40,126.67Z" fill="none" stroke="#ff0000" stroke-width="1.2" stroke-linejoin="miter"/>
<path d="M732.20,120.30L736.20,127.20L728.20,127.20Z" fill="none" stroke="#ff0000" stroke-width="1.2" stroke-linejoin="miter"/>
<path d="M733.00,120.85L737.00,127.75L729.00,127.75Z" fill="none" stroke="#ff0000" stroke-width="1.2" stroke-linejoin="miter"/>
<path d="M733.80,121.43L737.80,128.33L729.80,128.33Z" fill="none" stroke="#ff0000" stroke-width="1.2" stroke-linejoin="miter"/>
<path d="M734.60,122.02L738.60,128.92L730.60,128.92Z" fill="none" stroke="#ff0000" stroke-width="1.2" stroke-linejoin="miter"/>
<path d="M735.40,122.63L739.40,129.53L731.40,129.53Z" fill="none" stroke="#ff0000" stroke-width="1.2" stroke-linejoin="miter"/>
<path d="M736.20,123.26L740.20,130.16L732.20,130.16Z" fill="none" stroke="#ff0000" stroke-width="1.2" stroke-linejoin="miter"/>
<path d="M737.00,123.91L741.00,130.81L733.00,130.81Z" fill="none" stroke="#ff0000" stroke-width="1.2" stroke-linejoin="miter"/>
<path d="M737.80,124.58L741.80,131.48L733.80,131.48Z" fill="none" stroke="#ff0000" stroke-width="1.2" stroke-linejoin="miter"/>
<path d="M738.60,125.27L742.60,132.17L734.60,132.17Z" fill="none" stroke="#ff0000" stroke-width="1.2" stroke-linejoin="miter"/>
<path d="M739.40,125.97L743.40,132.87L735.40,132.87Z" fill="none" stroke="#ff0000" stroke-width="1.2" stroke-linejoin="miter"/>
<path d="M740.20,126.69L744.20,133.59L736.20,133.59Z" fill="none" stroke="#ff0000" stroke-width="1.2" stroke-linejoin="miter"/>
<path d="M741.00,127.43L745.00,134.33L737.00,134.33Z" fill="none" stroke="#ff0000" stroke-width="1.2" stroke-linejoin="miter"/>
<path d="M741.80,128.18L745.80,135.08L737.80,135.08Z" fill="none" stroke="#ff0000" stroke-width="1.2" stroke-linejoin="miter"/>
<path d="M742.60,128.95L746.60,135.85L738.60,135.85Z" fill="none" stroke="#ff0000" stroke-width="1.2" stroke-linejoin="miter"/>
<path d="M743.40,129.74L747.40,136.64L739.40,136.64Z" fill="none" stroke="#ff0000" stroke-width="1.2" stroke-linejoin="miter"/>
<path d="M744.20,130.54L748.20,137.44L740.20,137.44Z" fill="none" stroke="#ff0000" stroke-width="1.2" stroke-linejoin="miter"/>
<path d="M745.00,131.35L749.00,138.25L741.00,138.25Z" fill="none" stroke="#ff0000" stroke-width="1.2" stroke-linejoin="miter"/>
<path d="M745.80,132.18L749.80,139.08L741.80,139.08Z" fill="none" stroke="#ff0000" stroke-width="1.2" stroke-linejoin="miter"/>
<path d="M746.60,133.02L750.60,139.92L742.60,139.92Z" fill="none" stroke="#ff0000" stroke-width="1.2" stroke-linejoin="miter"/>
<path d="M747.40,133.88L751.40,140.78L743.40,140.78Z" fill="none" stroke="#ff0000" stroke-width="1.2" stroke-linejoin="miter"/>
<path d="M748.20,134.74L752.20,141.64L744.20,141.64Z" fill="none" stroke="#ff0000" stroke-width="1.2" stroke-linejoin="miter"/>
<path d="M749.00,135.62L753.00,142.52L745.00,142.52Z" fill="none" stroke="#ff0000" stroke-width="1.2" stroke-linejoin="miter"/>
<path d="M749.80,136.51L753.80,143.41L745.80,143.41Z" fill="none" stroke="#ff0000" stroke-width="1.2" stroke-linejoin="miter"/>
<path d="M750.60,137.41L754.60,144.31L746.60,144.31Z" fill="none" stroke="#ff0000" stroke-width="1.2" stroke-linejoin="miter"/>
<path d="M751.40,138.32L755.40,145.22L747.40,145.22Z" fill="none" stroke="#ff0000" stroke-width="1.2" stroke-linejoin="miter"/>
<path d="M752.20,139.24L756.20,146.14L748.20,146.14Z" fill="none" stroke="#ff0000" stroke-width="1.2" stroke-linejoin="miter"/>
<path d="M753.00,140.17L757.00,147.07L749.00,147.07Z" fill="none" stroke="#ff0000" stroke-width="1.2" stroke-linejoin="miter"/>
<path d="M753.80,141.11L757.80,148.01L749.80,148.01Z" fill="none" stroke="#ff0000" stroke-width="1.2" stroke-linejoin="miter"/>
<path d="M754.60,142.05L758.60,148.95L750.60,148.95Z" fill="none" stroke="#ff0000" stroke-width="1.2" stroke-linejoin="miter"/>
<path d="M755.40,143.00L759.40,149.90L751.40,149.90Z" fill="none" stroke="#ff0000" stroke-width="1.2" stroke-linejoin="miter"/>
<path d="M756.20,143.96L760.20,150.86L752.20,150.86Z" fill="none" stroke="#ff0000" stroke-width="1.2" stroke-linejoin="miter"/>
<path d="M757.00,144.93L761.00,151.83L753.00,151.83Z" fill="none" stroke="#ff0000" stroke-width="1.2" stroke-linejoin="miter"/>
<path d="M757.80,145.89L761.80,152.79L753.80,152.79Z" fill="none" stroke="#ff0000" stroke-width="1.2" stroke-linejoin="miter"/>
<path d="M758.60,146.87L762.60,153.77L754.60,153.77Z" fill="none" stroke="#ff0000" stroke-width="1.2" stroke-linejoin="miter"/>
<path d="M759.40,147.84L763.40,154.74L755.40,154.74Z" fill="none" stroke="#ff0000" stroke-width="1.2" stroke-linejoin="miter"/>
<path d="M760.20,148.82L764.20,155.72L756.20,155.72Z" fill="none" stroke="#ff0000" stroke-width="1.2" stroke-linejoin="miter"/>
<path d="M761.00,149.80L765.00,156.70L757.00,156.70Z" fill="none" stroke="#ff0000" stroke-width="1.2" stroke-linejoin="miter"/>
<path d="M761.80,150.79L765.80,157.69L757.80,157.69Z" fill="none" stroke="#ff0000" stroke-width="1.2" stroke-linejoin="miter"/>
<path d="M762.60,151.77L766.60,158.67L758.60,158.67Z" fill="none" stroke="#ff0000" stroke-width="1.2" stroke-linejoin="miter"/>
<path d="M763.40,152.75L767.40,159.65L759.40,159.65Z" fill="none" stroke="#ff0000" stroke-width="1.2" stroke-linejoin="miter"/>
<path d="M764.20,153.73L768.20,160.63L760.20,160.63Z" fill="none" stroke="#ff0000" stroke-width="1.2" stroke-linejoin="miter"/>
<path d="M765.00,154.72L769.00,161.62L761.00,161.62Z" fill="none" stroke="#ff0000" stroke-width="1.2" stroke-linejoin="miter"/>
<path d="M765.80,155.69L769.80,162.59L761.80,162.59Z" fill="none" stroke="#ff0000" stroke-width="1.2" stroke-linejoin="miter"/>
<path d="M766.60,156.67L770.60,163.57L762.60,163.57Z" fill="none" stroke="#ff0000" stroke-width="1.2" stroke-linejoin="miter"/>
<path d="M767.40,157.64L771.40,164.54L763.40,164.54Z" fill="none" stroke="#ff0000" stroke-width="1.2" stroke-linejoin="miter"/>
<path d="M768.20,158.60L772.20,165.50L764.20,165.50Z" fill="none" stroke="#ff0000" stroke-width="1.2" stroke-linejoin="miter"/>
<path d="M769.00,159.56L773.00,166.46L765.00,166.46Z" fill="none" stroke="#ff0000" stroke-width="1.2" stroke-linejoin="miter"/>
<path d="M769.80,160.52L773.80,167.42L765.80,167.42Z" fill="none" stroke="#ff0000" stroke-width="1.2" stroke-linejoin="miter"/>
<path d="M770.60,161.46L774.60,168.36L766.60,168.36Z" fill="none" stroke="#ff0000" stroke-width="1.2" stroke-linejoin="miter"/>
<path d="M771.40,162.40L775.40,169.30L767.40,169.30Z" fill="none" stroke="#ff0000" stroke-width="1.2" stroke-linejoin="miter"/>
<path d="M772.20,163.32L776.20,170.22L768.20,170.22Z" fill="none" stroke="#ff0000" stroke-width="1.2" stroke-linejoin="miter"/>
<rect x="480.2" y="312.5" width="120" height="185.20" fill="none" stroke="#262626" stroke-width="1"/>
<line x1="480.2" y1="497.70" x2="481.7" y2="497.70" stroke="#262626" stroke-width="1"/>
<line x1="598.7" y1="497.70" x2="600.2" y2="497.70" stroke="#262626" stroke-width="1"/>
<text x="474.90" y="501.20" text-anchor="end" class="tb9">0.77</text>
<line x1="480.2" y1="474.55" x2="481.7" y2="474.55" stroke="#262626" stroke-width="1"/>
<line x1="598.7" y1="474.55" x2="600.2" y2="474.55" stroke="#262626" stroke-width="1"/>
<text x="474.90" y="478.05" text-anchor="end" class="tb9">0.78</text>
<line x1="480.2" y1="451.40" x2="481.7" y2="451.40" stroke="#262626" stroke-width="1"/>
<line x1="598.7" y1="451.40" x2="600.2" y2="451.40" stroke="#262626" stroke-width="1"/>
<text x="474.90" y="454.90" text-anchor="end" class="tb9">0.79</text>
<line x1="480.2" y1="428.25" x2="481.7" y2="428.25" stroke="#262626" stroke-width="1"/>
<line x1="598.7" y1="428.25" x2="600.2" y2="428.25" stroke="#262626" stroke-width="1"/>
<text x="474.90" y="431.75" text-anchor="end" class="tb9">0.8</text>
<line x1="480.2" y1="405.10" x2="481.7" y2="405.10" stroke="#262626" stroke-width="1"/>
<line x1="598.7" y1="405.10" x2="600.2" y2="405.10" stroke="#262626" stroke-width="1"/>
<text x="474.90" y="408.60" text-anchor="end" class="tb9">0.81</text>
<line x1="480.2" y1="381.95" x2="481.7" y2="381.95" stroke="#262626" stroke-width="1"/>
<line x1="598.7" y1="381.95" x2="600.2" y2="381.95" stroke="#262626" stroke-width="1"/>
<text x="474.90" y="385.45" text-anchor="end" class="tb9">0.82</text>
<line x1="480.2" y1="358.80" x2="481.7" y2="358.80" stroke="#262626" stroke-width="1"/>
<line x1="598.7" y1="358.80" x2="600.2" y2="358.80" stroke="#262626" stroke-width="1"/>
<text x="474.90" y="362.30" text-anchor="end" class="tb9">0.83</text>
<line x1="480.2" y1="335.65" x2="481.7" y2="335.65" stroke="#262626" stroke-width="1"/>
<line x1="598.7" y1="335.65" x2="600.2" y2="335.65" stroke="#262626" stroke-width="1"/>
<text x="474.90" y="339.15" text-anchor="end" class="tb9">0.84</text>
<line x1="480.2" y1="312.50" x2="481.7" y2="312.50" stroke="#262626" stroke-width="1"/>
<line x1="598.7" y1="312.50" x2="600.2" y2="312.50" stroke="#262626" stroke-width="1"/>
<text x="474.90" y="316.00" text-anchor="end" class="tb9">0.85</text>
<line x1="480.20" y1="497.7" x2="480.20" y2="496.2" stroke="#262626" stroke-width="1"/>
<line x1="480.20" y1="312.5" x2="480.20" y2="314.0" stroke="#262626" stroke-width="1"/>
<text x="480.20" y="511.30" text-anchor="middle" class="tb9">0</text>
<line x1="504.20" y1="497.7" x2="504.20" y2="496.2" stroke="#262626" stroke-width="1"/>
<line x1="504.20" y1="312.5" x2="504.20" y2="314.0" stroke="#262626" stroke-width="1"/>
<text x="504.20" y="511.30" text-anchor="middle" class="tb9">0.2</text>
<line x1="528.20" y1="497.7" x2="528.20" y2="496.2" stroke="#262626" stroke-width="1"/>
<line x1="528.20" y1="312.5" x2="528.20" y2="314.0" stroke="#262626" stroke-width="1"/>
<text x="528.20" y="511.30" text-anchor="middle" class="tb9">0.4</text>
<line x1="552.20" y1="497.7" x2="552.20" y2="496.2" stroke="#262626" stroke-width="1"/>
<line x1="552.20" y1="312.5" x2="552.20" y2="314.0" stroke="#262626" stroke-width="1"/>
<text x="552.20" y="511.30" text-anchor="middle" class="tb9">0.6</text>
<line x1="576.20" y1="497.7" x2="576.20" y2="496.2" stroke="#262626" stroke-width="1"/>
<line x1="576.20" y1="312.5" x2="576.20" y2="314.0" stroke="#262626" stroke-width="1"/>
<text x="576.20" y="511.30" text-anchor="middle" class="tb9">0.8</text>
<line x1="600.20" y1="497.7" x2="600.20" y2="496.2" stroke="#262626" stroke-width="1"/>
<line x1="600.20" y1="312.5" x2="600.20" y2="314.0" stroke="#262626" stroke-width="1"/>
<text x="600.20" y="511.30" text-anchor="middle" class="tb9">1</text>
<text x="536.70" y="524.70" text-anchor="middle" class="tb10">Fraction of linear combination</text>
<text x="537.70" y="536.90" text-anchor="middle" class="tb10">from a European population</text>
<text transform="translate(449.00,406.30) rotate(-90)" text-anchor="middle" class="tb10">Similarity</text>
<text x="539.70" y="304.70" text-anchor="middle" class="tb10">Moroccan</text>
<rect x="477.30" y="408.03" width="5.80" height="5.80" fill="none" stroke="#ff0000" stroke-width="1.2"/>
<rect x="478.10" y="407.11" width="5.80" height="5.80" fill="none" stroke="#ff0000" stroke-width="1.2"/>
<rect x="478.90" y="406.21" width="5.80" height="5.80" fill="none" stroke="#ff0000" stroke-width="1.2"/>
<rect x="479.70" y="405.30" width="5.80" height="5.80" fill="none" stroke="#ff0000" stroke-width="1.2"/>
<rect x="480.50" y="404.40" width="5.80" height="5.80" fill="none" stroke="#ff0000" stroke-width="1.2"/>
<rect x="481.30" y="403.51" width="5.80" height="5.80" fill="none" stroke="#ff0000" stroke-width="1.2"/>
<rect x="482.10" y="402.62" width="5.80" height="5.80" fill="none" stroke="#ff0000" stroke-width="1.2"/>
<rect x="482.90" y="401.73" width="5.80" height="5.80" fill="none" stroke="#ff0000" stroke-width="1.2"/>
<rect x="483.70" y="400.86" width="5.80" height="5.80" fill="none" stroke="#ff0000" stroke-width="1.2"/>
<rect x="484.50" y="399.98" width="5.80" height="5.80" fill="none" stroke="#ff0000" stroke-width="1.2"/>
<rect x="485.30" y="399.12" width="5.80" height="5.80" fill="none" stroke="#ff0000" stroke-width="1.2"/>
<rect x="486.10" y="398.26" width="5.80" height="5.80" fill="none" stroke="#ff0000" stroke-width="1.2"/>
<rect x="486.90" y="397.41" width="5.80" height="5.80" fill="none" stroke="#ff0000" stroke-width="1.2"/>
<rect x="487.70" y="396.57" width="5.80" height="5.80" fill="none" stroke="#ff0000" stroke-width="1.2"/>
<rect x="488.50" y="395.74" width="5.80" height="5.80" fill="none" stroke="#ff0000" stroke-width="1.2"/>
<rect x="489.30" y="394.91" width="5.80" height="5.80" fill="none" stroke="#ff0000" stroke-width="1.2"/>
<rect x="490.10" y="394.10" width="5.80" height="5.80" fill="none" stroke="#ff0000" stroke-width="1.2"/>
<rect x="490.90" y="393.29" width="5.80" height="5.80" fill="none" stroke="#ff0000" stroke-width="1.2"/>
<rect x="491.70" y="392.50" width="5.80" height="5.80" fill="none" stroke="#ff0000" stroke-width="1.2"/>
<rect x="492.50" y="391.71" width="5.80" height="5.80" fill="none" stroke="#ff0000" stroke-width="1.2"/>
<rect x="493.30" y="390.93" width="5.80" height="5.80" fill="none" stroke="#ff0000" stroke-width="1.2"/>
<rect x="494.10" y="390.17" width="5.80" height="5.80" fill="none" stroke="#ff0000" stroke-width="1.2"/>
<rect x="494.90" y="389.42" width="5.80" height="5.80" fill="none" stroke="#ff0000" stroke-width="1.2"/>
<rect x="495.70" y="388.67" width="5.80" height="5.80" fill="none" stroke="#ff0000" stroke-width="1.2"/>
<rect x="496.50" y="387.94" width="5.80" height="5.80" fill="none" stroke="#ff0000" stroke-width="1.2"/>
<rect x="497.30" y="387.22" width="5.80" height="5.80" fill="none" stroke="#ff0000" stroke-width="1.2"/>
<rect x="498.10" y="386.52" width="5.80" height="5.80" fill="none" stroke="#ff0000" stroke-width="1.2"/>
<rect x="498.90" y="385.82" width="5.80" height="5.80" fill="none" stroke="#ff0000" stroke-width="1.2"/>
<rect x="499.70" y="385.14" width="5.80" height="5.80" fill="none" stroke="#ff0000" stroke-width="1.2"/>
<rect x="500.50" y="384.47" width="5.80" height="5.80" fill="none" stroke="#ff0000" stroke-width="1.2"/>
<rect x="501.30" y="383.82" width="5.80" height="5.80" fill="none" stroke="#ff0000" stroke-width="1.2"/>
<rect x="502.10" y="383.18" width="5.80" height="5.80" fill="none" stroke="#ff0000" stroke-width="1.2"/>
<rect x="502.90" y="382.55" width="5.80" height="5.80" fill="none" stroke="#ff0000" stroke-width="1.2"/>
<rect x="503.70" y="381.94" width="5.80" height="5.80" fill="none" stroke="#ff0000" stroke-width="1.2"/>
<rect x="504.50" y="381.34" width="5.80" height="5.80" fill="none" stroke="#ff0000" stroke-width="1.2"/>
<rect x="505.30" y="380.76" width="5.80" height="5.80" fill="none" stroke="#ff0000" stroke-width="1.2"/>
<rect x="506.10" y="380.19" width="5.80" height="5.80" fill="none" stroke="#ff0000" stroke-width="1.2"/>
<rect x="506.90" y="379.64" width="5.80" height="5.80" fill="none" stroke="#ff0000" stroke-width="1.2"/>
<rect x="507.70" y="379.10" width="5.80" height="5.80" fill="none" stroke="#ff0000" stroke-width="1.2"/>
<rect x="508.50" y="378.57" width="5.80" height="5.80" fill="none" stroke="#ff0000" stroke-width="1.2"/>
<rect x="509.30" y="378.07" width="5.80" height="5.80" fill="none" stroke="#ff0000" stroke-width="1.2"/>
<rect x="510.10" y="377.58" width="5.80" height="5.80" fill="none" stroke="#ff0000" stroke-width="1.2"/>
<rect x="510.90" y="377.10" width="5.80" height="5.80" fill="none" stroke="#ff0000" stroke-width="1.2"/>
<rect x="511.70" y="376.65" width="5.80" height="5.80" fill="none" stroke="#ff0000" stroke-width="1.2"/>
<rect x="512.50" y="376.20" width="5.80" height="5.80" fill="none" stroke="#ff0000" stroke-width="1.2"/>
<rect x="513.30" y="375.78" width="5.80" height="5.80" fill="none" stroke="#ff0000" stroke-width="1.2"/>
<rect x="514.10" y="375.37" width="5.80" height="5.80" fill="none" stroke="#ff0000" stroke-width="1.2"/>
<rect x="514.90" y="374.98" width="5.80" height="5.80" fill="none" stroke="#ff0000" stroke-width="1.2"/>
<rect x="515.70" y="374.61" width="5.80" height="5.80" fill="none" stroke="#ff0000" stroke-width="1.2"/>
<rect x="516.50" y="374.25" width="5.80" height="5.80" fill="none" stroke="#ff0000" stroke-width="1.2"/>
<rect x="517.30" y="373.92" width="5.80" height="5.80" fill="none" stroke="#ff0000" stroke-width="1.2"/>
<rect x="518.10" y="373.60" width="5.80" height="5.80" fill="none" stroke="#ff0000" stroke-width="1.2"/>
<rect x="518.90" y="373.29" width="5.80" height="5.80" fill="none" stroke="#ff0000" stroke-width="1.2"/>
<rect x="519.70" y="373.01" width="5.80" height="5.80" fill="none" stroke="#ff0000" stroke-width="1.2"/>
<rect x="520.50" y="372.75" width="5.80" height="5.80" fill="none" stroke="#ff0000" stroke-width="1.2"/>
<rect x="521.30" y="372.50" width="5.80" height="5.80" fill="none" stroke="#ff0000" stroke-width="1.2"/>
<rect x="522.10" y="372.27" width="5.80" height="5.80" fill="none" stroke="#ff0000" stroke-width="1.2"/>
<rect x="522.90" y="372.06" width="5.80" height="5.80" fill="none" stroke="#ff0000" stroke-width="1.2"/>
<rect x="523.70" y="371.87" width="5.80" height="5.80" fill="none" stroke="#ff0000" stroke-width="1.2"/>
<rect x="524.50" y="371.70" width="5.80" height="5.80" fill="none" stroke="#ff0000" stroke-width="1.2"/>
<rect x="525.30" y="371.54" width="5.80" height="5.80" fill="none" stroke="#ff0000" stroke-width="1.2"/>
<rect x="526.10" y="371.41" width="5.80" height="5.80" fill="none" stroke="#ff0000" stroke-width="1.2"/>
<rect x="526.90" y="371.29" width="5.80" height="5.80" fill="none" stroke="#ff0000" stroke-width="1.2"/>
<rect x="527.70" y="371.20" width="5.80" height="5.80" fill="none" stroke="#ff0000" stroke-width="1.2"/>
<rect x="528.50" y="371.12" width="5.80" height="5.80" fill="none" stroke="#ff0000" stroke-width="1.2"/>
<rect x="529.30" y="371.06" width="5.80" height="5.80" fill="none" stroke="#ff0000" stroke-width="1.2"/>
<rect x="530.10" y="371.02" width="5.80" height="5.80" fill="none" stroke="#ff0000" stroke-width="1.2"/>
<rect x="530.90" y="371.00" width="5.80" height="5.80" fill="none" stroke="#ff0000" stroke-width="1.2"/>
<rect x="531.70" y="371.01" width="5.80" height="5.80" fill="none" stroke="#ff0000" stroke-width="1.2"/>
<rect x="532.50" y="371.03" width="5.80" height="5.80" fill="none" stroke="#ff0000" stroke-width="1.2"/>
<rect x="533.30" y="371.07" width="5.80" height="5.80" fill="none" stroke="#ff0000" stroke-width="1.2"/>
<rect x="534.10" y="371.13" width="5.80" height="5.80" fill="none" stroke="#ff0000" stroke-width="1.2"/>
<rect x="534.90" y="371.20" width="5.80" height="5.80" fill="none" stroke="#ff0000" stroke-width="1.2"/>
<rect x="535.70" y="371.30" width="5.80" height="5.80" fill="none" stroke="#ff0000" stroke-width="1.2"/>
<rect x="536.50" y="371.42" width="5.80" height="5.80" fill="none" stroke="#ff0000" stroke-width="1.2"/>
<rect x="537.30" y="371.56" width="5.80" height="5.80" fill="none" stroke="#ff0000" stroke-width="1.2"/>
<rect x="538.10" y="371.72" width="5.80" height="5.80" fill="none" stroke="#ff0000" stroke-width="1.2"/>
<rect x="538.90" y="371.90" width="5.80" height="5.80" fill="none" stroke="#ff0000" stroke-width="1.2"/>
<rect x="539.70" y="372.09" width="5.80" height="5.80" fill="none" stroke="#ff0000" stroke-width="1.2"/>
<rect x="540.50" y="372.31" width="5.80" height="5.80" fill="none" stroke="#ff0000" stroke-width="1.2"/>
<rect x="541.30" y="372.55" width="5.80" height="5.80" fill="none" stroke="#ff0000" stroke-width="1.2"/>
<rect x="542.10" y="372.81" width="5.80" height="5.80" fill="none" stroke="#ff0000" stroke-width="1.2"/>
<rect x="542.90" y="373.08" width="5.80" height="5.80" fill="none" stroke="#ff0000" stroke-width="1.2"/>
<rect x="543.70" y="373.38" width="5.80" height="5.80" fill="none" stroke="#ff0000" stroke-width="1.2"/>
<rect x="544.50" y="373.69" width="5.80" height="5.80" fill="none" stroke="#ff0000" stroke-width="1.2"/>
<rect x="545.30" y="374.03" width="5.80" height="5.80" fill="none" stroke="#ff0000" stroke-width="1.2"/>
<rect x="546.10" y="374.38" width="5.80" height="5.80" fill="none" stroke="#ff0000" stroke-width="1.2"/>
<rect x="546.90" y="374.76" width="5.80" height="5.80" fill="none" stroke="#ff0000" stroke-width="1.2"/>
<rect x="547.70" y="375.15" width="5.80" height="5.80" fill="none" stroke="#ff0000" stroke-width="1.2"/>
<rect x="548.50" y="375.56" width="5.80" height="5.80" fill="none" stroke="#ff0000" stroke-width="1.2"/>
<rect x="549.30" y="375.99" width="5.80" height="5.80" fill="none" stroke="#ff0000" stroke-width="1.2"/>
<rect x="550.10" y="376.45" width="5.80" height="5.80" fill="none" stroke="#ff0000" stroke-width="1.2"/>
<rect x="550.90" y="376.92" width="5.80" height="5.80" fill="none" stroke="#ff0000" stroke-width="1.2"/>
<rect x="551.70" y="377.41" width="5.80" height="5.80" fill="none" stroke="#ff0000" stroke-width="1.2"/>
<rect x="552.50" y="377.91" width="5.80" height="5.80" fill="none" stroke="#ff0000" stroke-width="1.2"/>
<rect x="553.30" y="378.44" width="5.80" height="5.80" fill="none" stroke="#ff0000" stroke-width="1.2"/>
<rect x="554.10" y="378.99" width="5.80" height="5.80" fill="none" stroke="#ff0000" stroke-width="1.2"/>
<rect x="554.90" y="379.55" width="5.80" height="5.80" fill="none" stroke="#ff0000" stroke-width="1.2"/>
<rect x="555.70" y="380.13" width="5.80" height="5.80" fill="none" stroke="#ff0000" stroke-width="1.2"/>
<rect x="556.50" y="380.73" width="5.80" height="5.80" fill="none" stroke="#ff0000" stroke-width="1.2"/>
<rect x="557.30" y="381.35" width="5.80" height="5.80" fill="none" stroke="#ff0000" stroke-width="1.2"/>
<rect x="558.10" y="381.99" width="5.80" height="5.80" fill="none" stroke="#ff0000" stroke-width="1.2"/>
<rect x="558.90" y="382.64" width="5.80" height="5.80" fill="none" stroke="#ff0000" stroke-width="1.2"/>
<rect x="559.70" y="383.32" width="5.80" height="5.80" fill="none" stroke="#ff0000" stroke-width="1.2"/>
<rect x="560.50" y="384.01" width="5.80" height="5.80" fill="none" stroke="#ff0000" stroke-width="1.2"/>
<rect x="561.30" y="384.71" width="5.80" height="5.80" fill="none" stroke="#ff0000" stroke-width="1.2"/>
<rect x="562.10" y="385.44" width="5.80" height="5.80" fill="none" stroke="#ff0000" stroke-width="1.2"/>
<rect x="562.90" y="386.18" width="5.80" height="5.80" fill="none" stroke="#ff0000" stroke-width="1.2"/>
<rect x="563.70" y="386.94" width="5.80" height="5.80" fill="none" stroke="#ff0000" stroke-width="1.2"/>
<rect x="564.50" y="387.71" width="5.80" height="5.80" fill="none" stroke="#ff0000" stroke-width="1.2"/>
<rect x="565.30" y="388.51" width="5.80" height="5.80" fill="none" stroke="#ff0000" stroke-width="1.2"/>
<rect x="566.10" y="389.32" width="5.80" height="5.80" fill="none" stroke="#ff0000" stroke-width="1.2"/>
<rect x="566.90" y="390.14" width="5.80" height="5.80" fill="none" stroke="#ff0000" stroke-width="1.2"/>
<rect x="567.70" y="390.98" width="5.80" height="5.80" fill="none" stroke="#ff0000" stroke-width="1.2"/>
<rect x="568.50" y="391.84" width="5.80" height="5.80" fill="none" stroke="#ff0000" stroke-width="1.2"/>
<rect x="569.30" y="392.71" width="5.80" height="5.80" fill="none" stroke="#ff0000" stroke-width="1.2"/>
<rect x="570.10" y="393.60" width="5.80" height="5.80" fill="none" stroke="#ff0000" stroke-width="1.2"/>
<rect x="570.90" y="394.50" width="5.80" height="5.80" fill="none" stroke="#ff0000" stroke-width="1.2"/>
<rect x="571.70" y="395.41" width="5.80" height="5.80" fill="none" stroke="#ff0000" stroke-width="1.2"/>
<rect x="572.50" y="396.35" width="5.80" height="5.80" fill="none" stroke="#ff0000" stroke-width="1.2"/>
<rect x="573.30" y="397.29" width="5.80" height="5.80" fill="none" stroke="#ff0000" stroke-width="1.2"/>
<rect x="574.10" y="398.25" width="5.80" height="5.80" fill="none" stroke="#ff0000" stroke-width="1.2"/>
<rect x="574.90" y="399.23" width="5.80" height="5.80" fill="none" stroke="#ff0000" stroke-width="1.2"/>
<rect x="575.70" y="400.21" width="5.80" height="5.80" fill="none" stroke="#ff0000" stroke-width="1.2"/>
<rect x="576.50" y="401.21" width="5.80" height="5.80" fill="none" stroke="#ff0000" stroke-width="1.2"/>
<rect x="577.30" y="402.23" width="5.80" height="5.80" fill="none" stroke="#ff0000" stroke-width="1.2"/>
<rect x="578.10" y="403.25" width="5.80" height="5.80" fill="none" stroke="#ff0000" stroke-width="1.2"/>
<rect x="578.90" y="404.29" width="5.80" height="5.80" fill="none" stroke="#ff0000" stroke-width="1.2"/>
<rect x="579.70" y="405.34" width="5.80" height="5.80" fill="none" stroke="#ff0000" stroke-width="1.2"/>
<rect x="580.50" y="406.40" width="5.80" height="5.80" fill="none" stroke="#ff0000" stroke-width="1.2"/>
<rect x="581.30" y="407.48" width="5.80" height="5.80" fill="none" stroke="#ff0000" stroke-width="1.2"/>
<rect x="582.10" y="408.56" width="5.80" height="5.80" fill="none" stroke="#ff0000" stroke-width="1.2"/>
<rect x="582.90" y="409.66" width="5.80" height="5.80" fill="none" stroke="#ff0000" stroke-width="1.2"/>
<rect x="583.70" y="410.77" width="5.80" height="5.80" fill="none" stroke="#ff0000" stroke-width="1.2"/>
<rect x="584.50" y="411.88" width="5.80" height="5.80" fill="none" stroke="#ff0000" stroke-width="1.2"/>
<rect x="585.30" y="413.01" width="5.80" height="5.80" fill="none" stroke="#ff0000" stroke-width="1.2"/>
<rect x="586.10" y="414.15" width="5.80" height="5.80" fill="none" stroke="#ff0000" stroke-width="1.2"/>
<rect x="586.90" y="415.29" width="5.80" height="5.80" fill="none" stroke="#ff0000" stroke-width="1.2"/>
<rect x="587.70" y="416.45" width="5.80" height="5.80" fill="none" stroke="#ff0000" stroke-width="1.2"/>
<rect x="588.50" y="417.61" width="5.80" height="5.80" fill="none" stroke="#ff0000" stroke-width="1.2"/>
<rect x="589.30" y="418.78" width="5.80" height="5.80" fill="none" stroke="#ff0000" stroke-width="1.2"/>
<rect x="590.10" y="419.96" width="5.80" height="5.80" fill="none" stroke="#ff0000" stroke-width="1.2"/>
<rect x="590.90" y="421.15" width="5.80" height="5.80" fill="none" stroke="#ff0000" stroke-width="1.2"/>
<rect x="591.70" y="422.34" width="5.80" height="5.80" fill="none" stroke="#ff0000" stroke-width="1.2"/>
<rect x="592.50" y="423.54" width="5.80" height="5.80" fill="none" stroke="#ff0000" stroke-width="1.2"/>
<rect x="593.30" y="424.75" width="5.80" height="5.80" fill="none" stroke="#ff0000" stroke-width="1.2"/>
<rect x="594.10" y="425.96" width="5.80" height="5.80" fill="none" stroke="#ff0000" stroke-width="1.2"/>
<rect x="594.90" y="427.18" width="5.80" height="5.80" fill="none" stroke="#ff0000" stroke-width="1.2"/>
<rect x="595.70" y="428.40" width="5.80" height="5.80" fill="none" stroke="#ff0000" stroke-width="1.2"/>
<rect x="596.50" y="429.63" width="5.80" height="5.80" fill="none" stroke="#ff0000" stroke-width="1.2"/>
<rect x="597.30" y="430.86" width="5.80" height="5.80" fill="none" stroke="#ff0000" stroke-width="1.2"/>
<rect x="652.2" y="312.5" width="120" height="185.20" fill="none" stroke="#262626" stroke-width="1"/>
<line x1="652.2" y1="497.70" x2="653.7" y2="497.70" stroke="#262626" stroke-width="1"/>
<line x1="770.7" y1="497.70" x2="772.2" y2="497.70" stroke="#262626" stroke-width="1"/>
<text x="646.90" y="501.20" text-anchor="end" class="tb9">0.77</text>
<line x1="652.2" y1="474.55" x2="653.7" y2="474.55" stroke="#262626" stroke-width="1"/>
<line x1="770.7" y1="474.55" x2="772.2" y2="474.55" stroke="#262626" stroke-width="1"/>
<text x="646.90" y="478.05" text-anchor="end" class="tb9">0.78</text>
<line x1="652.2" y1="451.40" x2="653.7" y2="451.40" stroke="#262626" stroke-width="1"/>
<line x1="770.7" y1="451.40" x2="772.2" y2="451.40" stroke="#262626" stroke-width="1"/>
<text x="646.90" y="454.90" text-anchor="end" class="tb9">0.79</text>
<line x1="652.2" y1="428.25" x2="653.7" y2="428.25" stroke="#262626" stroke-width="1"/>
<line x1="770.7" y1="428.25" x2="772.2" y2="428.25" stroke="#262626" stroke-width="1"/>
<text x="646.90" y="431.75" text-anchor="end" class="tb9">0.8</text>
<line x1="652.2" y1="405.10" x2="653.7" y2="405.10" stroke="#262626" stroke-width="1"/>
<line x1="770.7" y1="405.10" x2="772.2" y2="405.10" stroke="#262626" stroke-width="1"/>
<text x="646.90" y="408.60" text-anchor="end" class="tb9">0.81</text>
<line x1="652.2" y1="381.95" x2="653.7" y2="381.95" stroke="#262626" stroke-width="1"/>
<line x1="770.7" y1="381.95" x2="772.2" y2="381.95" stroke="#262626" stroke-width="1"/>
<text x="646.90" y="385.45" text-anchor="end" class="tb9">0.82</text>
<line x1="652.2" y1="358.80" x2="653.7" y2="358.80" stroke="#262626" stroke-width="1"/>
<line x1="770.7" y1="358.80" x2="772.2" y2="358.80" stroke="#262626" stroke-width="1"/>
<text x="646.90" y="362.30" text-anchor="end" class="tb9">0.83</text>
<line x1="652.2" y1="335.65" x2="653.7" y2="335.65" stroke="#262626" stroke-width="1"/>
<line x1="770.7" y1="335.65" x2="772.2" y2="335.65" stroke="#262626" stroke-width="1"/>
<text x="646.90" y="339.15" text-anchor="end" class="tb9">0.84</text>
<line x1="652.2" y1="312.50" x2="653.7" y2="312.50" stroke="#262626" stroke-width="1"/>
<line x1="770.7" y1="312.50" x2="772.2" y2="312.50" stroke="#262626" stroke-width="1"/>
<text x="646.90" y="316.00" text-anchor="end" class="tb9">0.85</text>
<line x1="652.20" y1="497.7" x2="652.20" y2="496.2" stroke="#262626" stroke-width="1"/>
<line x1="652.20" y1="312.5" x2="652.20" y2="314.0" stroke="#262626" stroke-width="1"/>
<text x="652.20" y="511.30" text-anchor="middle" class="tb9">0</text>
<line x1="676.20" y1="497.7" x2="676.20" y2="496.2" stroke="#262626" stroke-width="1"/>
<line x1="676.20" y1="312.5" x2="676.20" y2="314.0" stroke="#262626" stroke-width="1"/>
<text x="676.20" y="511.30" text-anchor="middle" class="tb9">0.2</text>
<line x1="700.20" y1="497.7" x2="700.20" y2="496.2" stroke="#262626" stroke-width="1"/>
<line x1="700.20" y1="312.5" x2="700.20" y2="314.0" stroke="#262626" stroke-width="1"/>
<text x="700.20" y="511.30" text-anchor="middle" class="tb9">0.4</text>
<line x1="724.20" y1="497.7" x2="724.20" y2="496.2" stroke="#262626" stroke-width="1"/>
<line x1="724.20" y1="312.5" x2="724.20" y2="314.0" stroke="#262626" stroke-width="1"/>
<text x="724.20" y="511.30" text-anchor="middle" class="tb9">0.6</text>
<line x1="748.20" y1="497.7" x2="748.20" y2="496.2" stroke="#262626" stroke-width="1"/>
<line x1="748.20" y1="312.5" x2="748.20" y2="314.0" stroke="#262626" stroke-width="1"/>
<text x="748.20" y="511.30" text-anchor="middle" class="tb9">0.8</text>
<line x1="772.20" y1="497.7" x2="772.20" y2="496.2" stroke="#262626" stroke-width="1"/>
<line x1="772.20" y1="312.5" x2="772.20" y2="314.0" stroke="#262626" stroke-width="1"/>
<text x="772.20" y="511.30" text-anchor="middle" class="tb9">1</text>
<text x="708.70" y="524.70" text-anchor="middle" class="tb10">Fraction of linear combination</text>
<text x="709.70" y="536.90" text-anchor="middle" class="tb10">from a European population</text>
<text transform="translate(621.00,406.30) rotate(-90)" text-anchor="middle" class="tb10">Similarity</text>
<text x="711.70" y="304.70" text-anchor="middle" class="tb10">Turkish</text>
<circle cx="652.20" cy="384.32" r="3.3" fill="none" stroke="#ff0000" stroke-width="1.2"/>
<circle cx="653.00" cy="383.17" r="3.3" fill="none" stroke="#ff0000" stroke-width="1.2"/>
<circle cx="653.80" cy="382.03" r="3.3" fill="none" stroke="#ff0000" stroke-width="1.2"/>
<circle cx="654.60" cy="380.92" r="3.3" fill="none" stroke="#ff0000" stroke-width="1.2"/>
<circle cx="655.40" cy="379.82" r="3.3" fill="none" stroke="#ff0000" stroke-width="1.2"/>
<circle cx="656.20" cy="378.74" r="3.3" fill="none" stroke="#ff0000" stroke-width="1.2"/>
<circle cx="657.00" cy="377.68" r="3.3" fill="none" stroke="#ff0000" stroke-width="1.2"/>
<circle cx="657.80" cy="376.64" r="3.3" fill="none" stroke="#ff0000" stroke-width="1.2"/>
<circle cx="658.60" cy="375.61" r="3.3" fill="none" stroke="#ff0000" stroke-width="1.2"/>
<circle cx="659.40" cy="374.60" r="3.3" fill="none" stroke="#ff0000" stroke-width="1.2"/>
<circle cx="660.20" cy="373.61" r="3.3" fill="none" stroke="#ff0000" stroke-width="1.2"/>
<circle cx="661.00" cy="372.63" r="3.3" fill="none" stroke="#ff0000" stroke-width="1.2"/>
<circle cx="661.80" cy="371.68" r="3.3" fill="none" stroke="#ff0000" stroke-width="1.2"/>
<circle cx="662.60" cy="370.74" r="3.3" fill="none" stroke="#ff0000" stroke-width="1.2"/>
<circle cx="663.40" cy="369.82" r="3.3" fill="none" stroke="#ff0000" stroke-width="1.2"/>
<circle cx="664.20" cy="368.92" r="3.3" fill="none" stroke="#ff0000" stroke-width="1.2"/>
<circle cx="665.00" cy="368.03" r="3.3" fill="none" stroke="#ff0000" stroke-width="1.2"/>
<circle cx="665.80" cy="367.16" r="3.3" fill="none" stroke="#ff0000" stroke-width="1.2"/>
<circle cx="666.60" cy="366.31" r="3.3" fill="none" stroke="#ff0000" stroke-width="1.2"/>
<circle cx="667.40" cy="365.48" r="3.3" fill="none" stroke="#ff0000" stroke-width="1.2"/>
<circle cx="668.20" cy="364.67" r="3.3" fill="none" stroke="#ff0000" stroke-width="1.2"/>
<circle cx="669.00" cy="363.87" r="3.3" fill="none" stroke="#ff0000" stroke-width="1.2"/>
<circle cx="669.80" cy="363.10" r="3.3" fill="none" stroke="#ff0000" stroke-width="1.2"/>
<circle cx="670.60" cy="362.34" r="3.3" fill="none" stroke="#ff0000" stroke-width="1.2"/>
<circle cx="671.40" cy="361.59" r="3.3" fill="none" stroke="#ff0000" stroke-width="1.2"/>
<circle cx="672.20" cy="360.87" r="3.3" fill="none" stroke="#ff0000" stroke-width="1.2"/>
<circle cx="673.00" cy="360.16" r="3.3" fill="none" stroke="#ff0000" stroke-width="1.2"/>
<circle cx="673.80" cy="359.48" r="3.3" fill="none" stroke="#ff0000" stroke-width="1.2"/>
<circle cx="674.60" cy="358.81" r="3.3" fill="none" stroke="#ff0000" stroke-width="1.2"/>
<circle cx="675.40" cy="358.15" r="3.3" fill="none" stroke="#ff0000" stroke-width="1.2"/>
<circle cx="676.20" cy="357.52" r="3.3" fill="none" stroke="#ff0000" stroke-width="1.2"/>
<circle cx="677.00" cy="356.90" r="3.3" fill="none" stroke="#ff0000" stroke-width="1.2"/>
<circle cx="677.80" cy="356.31" r="3.3" fill="none" stroke="#ff0000" stroke-width="1.2"/>
<circle cx="678.60" cy="355.73" r="3.3" fill="none" stroke="#ff0000" stroke-width="1.2"/>
<circle cx="679.40" cy="355.16" r="3.3" fill="none" stroke="#ff0000" stroke-width="1.2"/>
<circle cx="680.20" cy="354.62" r="3.3" fill="none" stroke="#ff0000" stroke-width="1.2"/>
<circle cx="681.00" cy="354.09" r="3.3" fill="none" stroke="#ff0000" stroke-width="1.2"/>
<circle cx="681.80" cy="353.59" r="3.3" fill="none" stroke="#ff0000" stroke-width="1.2"/>
<circle cx="682.60" cy="353.10" r="3.3" fill="none" stroke="#ff0000" stroke-width="1.2"/>
<circle cx="683.40" cy="352.63" r="3.3" fill="none" stroke="#ff0000" stroke-width="1.2"/>
<circle cx="684.20" cy="352.17" r="3.3" fill="none" stroke="#ff0000" stroke-width="1.2"/>
<circle cx="685.00" cy="351.74" r="3.3" fill="none" stroke="#ff0000" stroke-width="1.2"/>
<circle cx="685.80" cy="351.32" r="3.3" fill="none" stroke="#ff0000" stroke-width="1.2"/>
<circle cx="686.60" cy="350.92" r="3.3" fill="none" stroke="#ff0000" stroke-width="1.2"/>
<circle cx="687.40" cy="350.54" r="3.3" fill="none" stroke="#ff0000" stroke-width="1.2"/>
<circle cx="688.20" cy="350.18" r="3.3" fill="none" stroke="#ff0000" stroke-width="1.2"/>
<circle cx="689.00" cy="349.83" r="3.3" fill="none" stroke="#ff0000" stroke-width="1.2"/>
<circle cx="689.80" cy="349.50" r="3.3" fill="none" stroke="#ff0000" stroke-width="1.2"/>
<circle cx="690.60" cy="349.20" r="3.3" fill="none" stroke="#ff0000" stroke-width="1.2"/>
<circle cx="691.40" cy="348.90" r="3.3" fill="none" stroke="#ff0000" stroke-width="1.2"/>
<circle cx="692.20" cy="348.63" r="3.3" fill="none" stroke="#ff0000" stroke-width="1.2"/>
<circle cx="693.00" cy="348.38" r="3.3" fill="none" stroke="#ff0000" stroke-width="1.2"/>
<circle cx="693.80" cy="348.14" r="3.3" fill="none" stroke="#ff0000" stroke-width="1.2"/>
<circle cx="694.60" cy="347.92" r="3.3" fill="none" stroke="#ff0000" stroke-width="1.2"/>
<circle cx="695.40" cy="347.72" r="3.3" fill="none" stroke="#ff0000" stroke-width="1.2"/>
<circle cx="696.20" cy="347.54" r="3.3" fill="none" stroke="#ff0000" stroke-width="1.2"/>
<circle cx="697.00" cy="347.37" r="3.3" fill="none" stroke="#ff0000" stroke-width="1.2"/>
<circle cx="697.80" cy="347.22" r="3.3" fill="none" stroke="#ff0000" stroke-width="1.2"/>
<circle cx="698.60" cy="347.10" r="3.3" fill="none" stroke="#ff0000" stroke-width="1.2"/>
<circle cx="699.40" cy="346.98" r="3.3" fill="none" stroke="#ff0000" stroke-width="1.2"/>
<circle cx="700.20" cy="346.89" r="3.3" fill="none" stroke="#ff0000" stroke-width="1.2"/>
<circle cx="701.00" cy="346.82" r="3.3" fill="none" stroke="#ff0000" stroke-width="1.2"/>
<circle cx="701.80" cy="346.76" r="3.3" fill="none" stroke="#ff0000" stroke-width="1.2"/>
<circle cx="702.60" cy="346.72" r="3.3" fill="none" stroke="#ff0000" stroke-width="1.2"/>
<circle cx="703.40" cy="346.70" r="3.3" fill="none" stroke="#ff0000" stroke-width="1.2"/>
<circle cx="704.20" cy="346.69" r="3.3" fill="none" stroke="#ff0000" stroke-width="1.2"/>
<circle cx="705.00" cy="346.71" r="3.3" fill="none" stroke="#ff0000" stroke-width="1.2"/>
<circle cx="705.80" cy="346.74" r="3.3" fill="none" stroke="#ff0000" stroke-width="1.2"/>
<circle cx="706.60" cy="346.79" r="3.3" fill="none" stroke="#ff0000" stroke-width="1.2"/>
<circle cx="707.40" cy="346.86" r="3.3" fill="none" stroke="#ff0000" stroke-width="1.2"/>
<circle cx="708.20" cy="346.94" r="3.3" fill="none" stroke="#ff0000" stroke-width="1.2"/>
<circle cx="709.00" cy="347.04" r="3.3" fill="none" stroke="#ff0000" stroke-width="1.2"/>
<circle cx="709.80" cy="347.16" r="3.3" fill="none" stroke="#ff0000" stroke-width="1.2"/>
<circle cx="710.60" cy="347.30" r="3.3" fill="none" stroke="#ff0000" stroke-width="1.2"/>
<circle cx="711.40" cy="347.46" r="3.3" fill="none" stroke="#ff0000" stroke-width="1.2"/>
<circle cx="712.20" cy="347.63" r="3.3" fill="none" stroke="#ff0000" stroke-width="1.2"/>
<circle cx="713.00" cy="347.82" r="3.3" fill="none" stroke="#ff0000" stroke-width="1.2"/>
<circle cx="713.80" cy="348.03" r="3.3" fill="none" stroke="#ff0000" stroke-width="1.2"/>
<circle cx="714.60" cy="348.25" r="3.3" fill="none" stroke="#ff0000" stroke-width="1.2"/>
<circle cx="715.40" cy="348.50" r="3.3" fill="none" stroke="#ff0000" stroke-width="1.2"/>
<circle cx="716.20" cy="348.76" r="3.3" fill="none" stroke="#ff0000" stroke-width="1.2"/>
<circle cx="717.00" cy="349.04" r="3.3" fill="none" stroke="#ff0000" stroke-width="1.2"/>
<circle cx="717.80" cy="349.33" r="3.3" fill="none" stroke="#ff0000" stroke-width="1.2"/>
<circle cx="718.60" cy="349.64" r="3.3" fill="none" stroke="#ff0000" stroke-width="1.2"/>
<circle cx="719.40" cy="349.97" r="3.3" fill="none" stroke="#ff0000" stroke-width="1.2"/>
<circle cx="720.20" cy="350.32" r="3.3" fill="none" stroke="#ff0000" stroke-width="1.2"/>
<circle cx="721.00" cy="350.69" r="3.3" fill="none" stroke="#ff0000" stroke-width="1.2"/>
<circle cx="721.80" cy="351.07" r="3.3" fill="none" stroke="#ff0000" stroke-width="1.2"/>
<circle cx="722.60" cy="351.47" r="3.3" fill="none" stroke="#ff0000" stroke-width="1.2"/>
<circle cx="723.40" cy="351.88" r="3.3" fill="none" stroke="#ff0000" stroke-width="1.2"/>
<circle cx="724.20" cy="352.32" r="3.3" fill="none" stroke="#ff0000" stroke-width="1.2"/>
<circle cx="725.00" cy="352.77" r="3.3" fill="none" stroke="#ff0000" stroke-width="1.2"/>
<circle cx="725.80" cy="353.23" r="3.3" fill="none" stroke="#ff0000" stroke-width="1.2"/>
<circle cx="726.60" cy="353.72" r="3.3" fill="none" stroke="#ff0000" stroke-width="1.2"/>
<circle cx="727.40" cy="354.22" r="3.3" fill="none" stroke="#ff0000" stroke-width="1.2"/>
<circle cx="728.20" cy="354.73" r="3.3" fill="none" stroke="#ff0000" stroke-width="1.2"/>
<circle cx="729.00" cy="355.27" r="3.3" fill="none" stroke="#ff0000" stroke-width="1.2"/>
<circle cx="729.80" cy="355.82" r="3.3" fill="none" stroke="#ff0000" stroke-width="1.2"/>
<circle cx="730.60" cy="356.39" r="3.3" fill="none" stroke="#ff0000" stroke-width="1.2"/>
<circle cx="731.40" cy="356.97" r="3.3" fill="none" stroke="#ff0000" stroke-width="1.2"/>
<circle cx="732.20" cy="357.57" r="3.3" fill="none" stroke="#ff0000" stroke-width="1.2"/>
<circle cx="733.00" cy="358.19" r="3.3" fill="none" stroke="#ff0000" stroke-width="1.2"/>
<circle cx="733.80" cy="358.83" r="3.3" fill="none" stroke="#ff0000" stroke-width="1.2"/>
<circle cx="734.60" cy="359.48" r="3.3" fill="none" stroke="#ff0000" stroke-width="1.2"/>
<circle cx="735.40" cy="360.14" r="3.3" fill="none" stroke="#ff0000" stroke-width="1.2"/>
<circle cx="736.20" cy="360.83" r="3.3" fill="none" stroke="#ff0000" stroke-width="1.2"/>
<circle cx="737.00" cy="361.53" r="3.3" fill="none" stroke="#ff0000" stroke-width="1.2"/>
<circle cx="737.80" cy="362.24" r="3.3" fill="none" stroke="#ff0000" stroke-width="1.2"/>
<circle cx="738.60" cy="362.98" r="3.3" fill="none" stroke="#ff0000" stroke-width="1.2"/>
<circle cx="739.40" cy="363.73" r="3.3" fill="none" stroke="#ff0000" stroke-width="1.2"/>
<circle cx="740.20" cy="364.49" r="3.3" fill="none" stroke="#ff0000" stroke-width="1.2"/>
<circle cx="741.00" cy="365.27" r="3.3" fill="none" stroke="#ff0000" stroke-width="1.2"/>
<circle cx="741.80" cy="366.07" r="3.3" fill="none" stroke="#ff0000" stroke-width="1.2"/>
<circle cx="742.60" cy="366.88" r="3.3" fill="none" stroke="#ff0000" stroke-width="1.2"/>
<circle cx="743.40" cy="367.71" r="3.3" fill="none" stroke="#ff0000" stroke-width="1.2"/>
<circle cx="744.20" cy="368.55" r="3.3" fill="none" stroke="#ff0000" stroke-width="1.2"/>
<circle cx="745.00" cy="369.41" r="3.3" fill="none" stroke="#ff0000" stroke-width="1.2"/>
<circle cx="745.80" cy="370.29" r="3.3" fill="none" stroke="#ff0000" stroke-width="1.2"/>
<circle cx="746.60" cy="371.18" r="3.3" fill="none" stroke="#ff0000" stroke-width="1.2"/>
<circle cx="747.40" cy="372.09" r="3.3" fill="none" stroke="#ff0000" stroke-width="1.2"/>
<circle cx="748.20" cy="373.01" r="3.3" fill="none" stroke="#ff0000" stroke-width="1.2"/>
<circle cx="749.00" cy="373.95" r="3.3" fill="none" stroke="#ff0000" stroke-width="1.2"/>
<circle cx="749.80" cy="374.90" r="3.3" fill="none" stroke="#ff0000" stroke-width="1.2"/>
<circle cx="750.60" cy="375.87" r="3.3" fill="none" stroke="#ff0000" stroke-width="1.2"/>
<circle cx="751.40" cy="376.85" r="3.3" fill="none" stroke="#ff0000" stroke-width="1.2"/>
<circle cx="752.20" cy="377.85" r="3.3" fill="none" stroke="#ff0000" stroke-width="1.2"/>
<circle cx="753.00" cy="378.86" r="3.3" fill="none" stroke="#ff0000" stroke-width="1.2"/>
<circle cx="753.80" cy="379.89" r="3.3" fill="none" stroke="#ff0000" stroke-width="1.2"/>
<circle cx="754.60" cy="380.94" r="3.3" fill="none" stroke="#ff0000" stroke-width="1.2"/>
<circle cx="755.40" cy="382.00" r="3.3" fill="none" stroke="#ff0000" stroke-width="1.2"/>
<circle cx="756.20" cy="383.07" r="3.3" fill="none" stroke="#ff0000" stroke-width="1.2"/>
<circle cx="757.00" cy="384.16" r="3.3" fill="none" stroke="#ff0000" stroke-width="1.2"/>
<circle cx="757.80" cy="385.26" r="3.3" fill="none" stroke="#ff0000" stroke-width="1.2"/>
<circle cx="758.60" cy="386.38" r="3.3" fill="none" stroke="#ff0000" stroke-width="1.2"/>
<circle cx="759.40" cy="387.51" r="3.3" fill="none" stroke="#ff0000" stroke-width="1.2"/>
<circle cx="760.20" cy="388.66" r="3.3" fill="none" stroke="#ff0000" stroke-width="1.2"/>
<circle cx="761.00" cy="389.82" r="3.3" fill="none" stroke="#ff0000" stroke-width="1.2"/>
<circle cx="761.80" cy="390.99" r="3.3" fill="none" stroke="#ff0000" stroke-width="1.2"/>
<circle cx="762.60" cy="392.18" r="3.3" fill="none" stroke="#ff0000" stroke-width="1.2"/>
<circle cx="763.40" cy="393.38" r="3.3" fill="none" stroke="#ff0000" stroke-width="1.2"/>
<circle cx="764.20" cy="394.60" r="3.3" fill="none" stroke="#ff0000" stroke-width="1.2"/>
<circle cx="765.00" cy="395.83" r="3.3" fill="none" stroke="#ff0000" stroke-width="1.2"/>
<circle cx="765.80" cy="397.08" r="3.3" fill="none" stroke="#ff0000" stroke-width="1.2"/>
<circle cx="766.60" cy="398.34" r="3.3" fill="none" stroke="#ff0000" stroke-width="1.2"/>
<circle cx="767.40" cy="399.61" r="3.3" fill="none" stroke="#ff0000" stroke-width="1.2"/>
<circle cx="768.20" cy="400.90" r="3.3" fill="none" stroke="#ff0000" stroke-width="1.2"/>
<circle cx="769.00" cy="402.20" r="3.3" fill="none" stroke="#ff0000" stroke-width="1.2"/>
<circle cx="769.80" cy="403.51" r="3.3" fill="none" stroke="#ff0000" stroke-width="1.2"/>
<circle cx="770.60" cy="404.84" r="3.3" fill="none" stroke="#ff0000" stroke-width="1.2"/>
<circle cx="771.40" cy="406.17" r="3.3" fill="none" stroke="#ff0000" stroke-width="1.2"/>
<circle cx="772.20" cy="407.53" r="3.3" fill="none" stroke="#ff0000" stroke-width="1.2"/>
</svg>
</body></html>
